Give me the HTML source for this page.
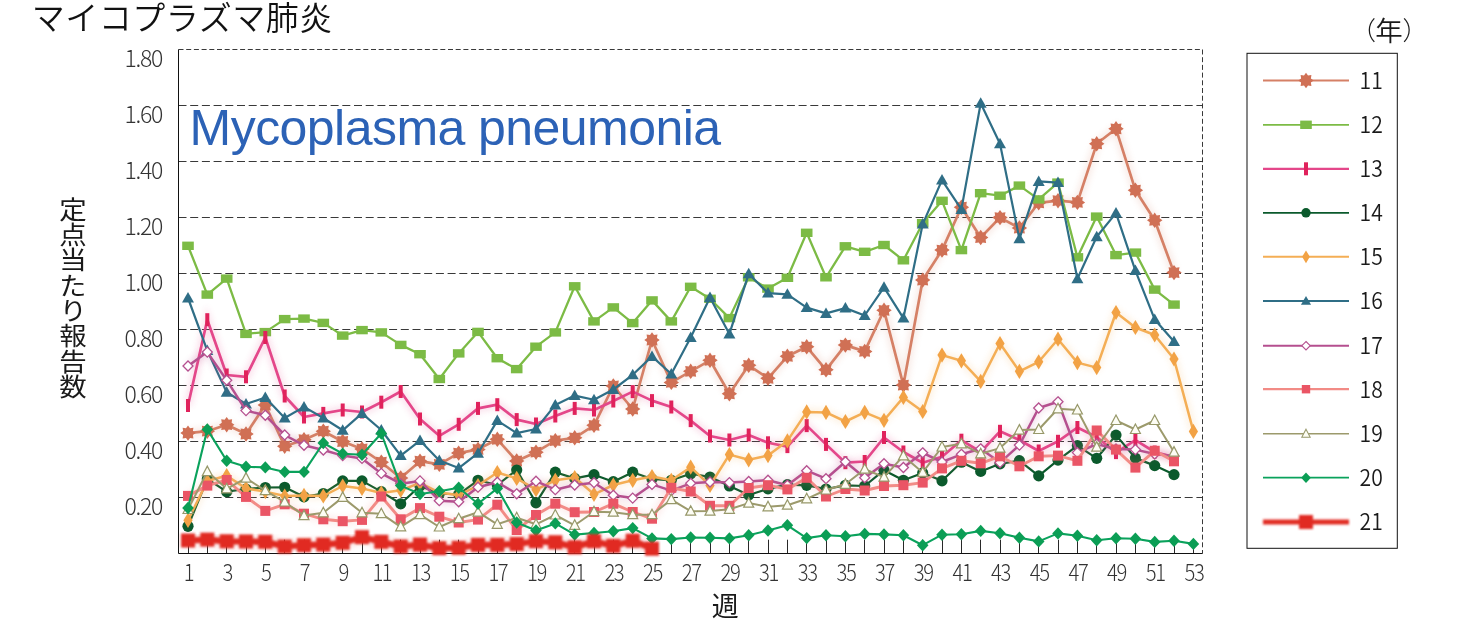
<!DOCTYPE html>
<html lang="ja"><head><meta charset="utf-8"><title>マイコプラズマ肺炎</title>
<style>
html,body{margin:0;padding:0;background:#fff;}
body{width:1462px;height:631px;overflow:hidden;}
svg{display:block;}
.jp{font-family:"Noto Sans CJK JP","IPAGothic",sans-serif;font-weight:300;}
.num{font-family:"Noto Sans CJK JP","Liberation Sans",sans-serif;font-weight:300;}
.lat{font-family:"Liberation Sans",sans-serif;}
</style></head><body>
<svg width="1462" height="631" viewBox="0 0 1462 631">
<defs>
<filter id="b35" x="-5%" y="-20%" width="110%" height="140%"><feGaussianBlur stdDeviation="0.35"/></filter>
<filter id="b40" x="-5%" y="-20%" width="110%" height="140%"><feGaussianBlur stdDeviation="0.4"/></filter>
<filter id="b45" x="-5%" y="-20%" width="110%" height="140%"><feGaussianBlur stdDeviation="0.45"/></filter>
<filter id="b50" x="-5%" y="-20%" width="110%" height="140%"><feGaussianBlur stdDeviation="0.5"/></filter>
<filter id="b60" x="-5%" y="-20%" width="110%" height="140%"><feGaussianBlur stdDeviation="0.6"/></filter>
<filter id="b70" x="-5%" y="-20%" width="110%" height="140%"><feGaussianBlur stdDeviation="0.7"/></filter>
<filter id="b90" x="-5%" y="-20%" width="110%" height="140%"><feGaussianBlur stdDeviation="0.9"/></filter>
<filter id="halo" x="-5%" y="-20%" width="110%" height="140%"><feGaussianBlur stdDeviation="3"/></filter>
</defs>
<rect width="1462" height="631" fill="#fff"/>

<text class="jp" x="31.8" y="30.4" font-size="33" letter-spacing="0.5" style="font-weight:350" fill="#111">マイコプラズマ肺炎</text>
<line x1="178.5" y1="497.5" x2="1202.5" y2="497.5" stroke="#222" stroke-width="0.9" stroke-dasharray="8 3.7"/>
<line x1="178.5" y1="441.5" x2="1202.5" y2="441.5" stroke="#222" stroke-width="0.9" stroke-dasharray="8 3.7"/>
<line x1="178.5" y1="385.5" x2="1202.5" y2="385.5" stroke="#222" stroke-width="0.9" stroke-dasharray="8 3.7"/>
<line x1="178.5" y1="329.5" x2="1202.5" y2="329.5" stroke="#222" stroke-width="0.9" stroke-dasharray="8 3.7"/>
<line x1="178.5" y1="273.5" x2="1202.5" y2="273.5" stroke="#222" stroke-width="0.9" stroke-dasharray="8 3.7"/>
<line x1="178.5" y1="217.5" x2="1202.5" y2="217.5" stroke="#222" stroke-width="0.9" stroke-dasharray="8 3.7"/>
<line x1="178.5" y1="161.5" x2="1202.5" y2="161.5" stroke="#222" stroke-width="0.9" stroke-dasharray="8 3.7"/>
<line x1="178.5" y1="105.5" x2="1202.5" y2="105.5" stroke="#222" stroke-width="0.9" stroke-dasharray="8 3.7"/>
<line x1="178.5" y1="49.5" x2="1202.5" y2="49.5" stroke="#222" stroke-width="0.9" stroke-dasharray="5 2.7"/>
<line x1="1202.5" y1="49.5" x2="1202.5" y2="553.5" stroke="#222" stroke-width="0.9" stroke-dasharray="5 2.7"/>
<line x1="178.5" y1="49.5" x2="178.5" y2="553.5" stroke="#111" stroke-width="1"/>
<line x1="178.5" y1="553.5" x2="1202.5" y2="553.5" stroke="#111" stroke-width="1"/>
<line x1="188.5" y1="539.7" x2="188.5" y2="553.5" stroke="#111" stroke-width="0.9"/>
<line x1="207.5" y1="539.7" x2="207.5" y2="553.5" stroke="#111" stroke-width="0.9"/>
<line x1="226.5" y1="539.7" x2="226.5" y2="553.5" stroke="#111" stroke-width="0.9"/>
<line x1="246.5" y1="539.7" x2="246.5" y2="553.5" stroke="#111" stroke-width="0.9"/>
<line x1="265.5" y1="539.7" x2="265.5" y2="553.5" stroke="#111" stroke-width="0.9"/>
<line x1="284.5" y1="539.7" x2="284.5" y2="553.5" stroke="#111" stroke-width="0.9"/>
<line x1="304.5" y1="539.7" x2="304.5" y2="553.5" stroke="#111" stroke-width="0.9"/>
<line x1="323.5" y1="539.7" x2="323.5" y2="553.5" stroke="#111" stroke-width="0.9"/>
<line x1="342.5" y1="539.7" x2="342.5" y2="553.5" stroke="#111" stroke-width="0.9"/>
<line x1="362.5" y1="539.7" x2="362.5" y2="553.5" stroke="#111" stroke-width="0.9"/>
<line x1="381.5" y1="539.7" x2="381.5" y2="553.5" stroke="#111" stroke-width="0.9"/>
<line x1="400.5" y1="539.7" x2="400.5" y2="553.5" stroke="#111" stroke-width="0.9"/>
<line x1="420.5" y1="539.7" x2="420.5" y2="553.5" stroke="#111" stroke-width="0.9"/>
<line x1="439.5" y1="539.7" x2="439.5" y2="553.5" stroke="#111" stroke-width="0.9"/>
<line x1="458.5" y1="539.7" x2="458.5" y2="553.5" stroke="#111" stroke-width="0.9"/>
<line x1="478.5" y1="539.7" x2="478.5" y2="553.5" stroke="#111" stroke-width="0.9"/>
<line x1="497.5" y1="539.7" x2="497.5" y2="553.5" stroke="#111" stroke-width="0.9"/>
<line x1="516.5" y1="539.7" x2="516.5" y2="553.5" stroke="#111" stroke-width="0.9"/>
<line x1="536.5" y1="539.7" x2="536.5" y2="553.5" stroke="#111" stroke-width="0.9"/>
<line x1="555.5" y1="539.7" x2="555.5" y2="553.5" stroke="#111" stroke-width="0.9"/>
<line x1="574.5" y1="539.7" x2="574.5" y2="553.5" stroke="#111" stroke-width="0.9"/>
<line x1="594.5" y1="539.7" x2="594.5" y2="553.5" stroke="#111" stroke-width="0.9"/>
<line x1="613.5" y1="539.7" x2="613.5" y2="553.5" stroke="#111" stroke-width="0.9"/>
<line x1="632.5" y1="539.7" x2="632.5" y2="553.5" stroke="#111" stroke-width="0.9"/>
<line x1="652.5" y1="539.7" x2="652.5" y2="553.5" stroke="#111" stroke-width="0.9"/>
<line x1="671.5" y1="539.7" x2="671.5" y2="553.5" stroke="#111" stroke-width="0.9"/>
<line x1="690.5" y1="539.7" x2="690.5" y2="553.5" stroke="#111" stroke-width="0.9"/>
<line x1="710.5" y1="539.7" x2="710.5" y2="553.5" stroke="#111" stroke-width="0.9"/>
<line x1="729.5" y1="539.7" x2="729.5" y2="553.5" stroke="#111" stroke-width="0.9"/>
<line x1="748.5" y1="539.7" x2="748.5" y2="553.5" stroke="#111" stroke-width="0.9"/>
<line x1="768.5" y1="539.7" x2="768.5" y2="553.5" stroke="#111" stroke-width="0.9"/>
<line x1="787.5" y1="539.7" x2="787.5" y2="553.5" stroke="#111" stroke-width="0.9"/>
<line x1="806.5" y1="539.7" x2="806.5" y2="553.5" stroke="#111" stroke-width="0.9"/>
<line x1="826.5" y1="539.7" x2="826.5" y2="553.5" stroke="#111" stroke-width="0.9"/>
<line x1="845.5" y1="539.7" x2="845.5" y2="553.5" stroke="#111" stroke-width="0.9"/>
<line x1="864.5" y1="539.7" x2="864.5" y2="553.5" stroke="#111" stroke-width="0.9"/>
<line x1="884.5" y1="539.7" x2="884.5" y2="553.5" stroke="#111" stroke-width="0.9"/>
<line x1="903.5" y1="539.7" x2="903.5" y2="553.5" stroke="#111" stroke-width="0.9"/>
<line x1="922.5" y1="539.7" x2="922.5" y2="553.5" stroke="#111" stroke-width="0.9"/>
<line x1="942.5" y1="539.7" x2="942.5" y2="553.5" stroke="#111" stroke-width="0.9"/>
<line x1="961.5" y1="539.7" x2="961.5" y2="553.5" stroke="#111" stroke-width="0.9"/>
<line x1="980.5" y1="539.7" x2="980.5" y2="553.5" stroke="#111" stroke-width="0.9"/>
<line x1="1000.5" y1="539.7" x2="1000.5" y2="553.5" stroke="#111" stroke-width="0.9"/>
<line x1="1019.5" y1="539.7" x2="1019.5" y2="553.5" stroke="#111" stroke-width="0.9"/>
<line x1="1038.5" y1="539.7" x2="1038.5" y2="553.5" stroke="#111" stroke-width="0.9"/>
<line x1="1058.5" y1="539.7" x2="1058.5" y2="553.5" stroke="#111" stroke-width="0.9"/>
<line x1="1077.5" y1="539.7" x2="1077.5" y2="553.5" stroke="#111" stroke-width="0.9"/>
<line x1="1096.5" y1="539.7" x2="1096.5" y2="553.5" stroke="#111" stroke-width="0.9"/>
<line x1="1116.5" y1="539.7" x2="1116.5" y2="553.5" stroke="#111" stroke-width="0.9"/>
<line x1="1135.5" y1="539.7" x2="1135.5" y2="553.5" stroke="#111" stroke-width="0.9"/>
<line x1="1154.5" y1="539.7" x2="1154.5" y2="553.5" stroke="#111" stroke-width="0.9"/>
<line x1="1174.5" y1="539.7" x2="1174.5" y2="553.5" stroke="#111" stroke-width="0.9"/>
<line x1="1193.5" y1="539.7" x2="1193.5" y2="553.5" stroke="#111" stroke-width="0.9"/>
<text class="num" x="161.9" y="515.3" text-anchor="end" font-size="23" letter-spacing="-1.3" fill="#333">0.20</text>
<text class="num" x="161.9" y="459.3" text-anchor="end" font-size="23" letter-spacing="-1.3" fill="#333">0.40</text>
<text class="num" x="161.9" y="403.3" text-anchor="end" font-size="23" letter-spacing="-1.3" fill="#333">0.60</text>
<text class="num" x="161.9" y="347.3" text-anchor="end" font-size="23" letter-spacing="-1.3" fill="#333">0.80</text>
<text class="num" x="161.9" y="291.3" text-anchor="end" font-size="23" letter-spacing="-1.3" fill="#333">1.00</text>
<text class="num" x="161.9" y="235.3" text-anchor="end" font-size="23" letter-spacing="-1.3" fill="#333">1.20</text>
<text class="num" x="161.9" y="179.3" text-anchor="end" font-size="23" letter-spacing="-1.3" fill="#333">1.40</text>
<text class="num" x="161.9" y="123.3" text-anchor="end" font-size="23" letter-spacing="-1.3" fill="#333">1.60</text>
<text class="num" x="161.9" y="67.3" text-anchor="end" font-size="23" letter-spacing="-1.3" fill="#333">1.80</text>
<text class="num" transform="translate(188.5,580.8) scale(0.88,1)" text-anchor="middle" font-size="23" letter-spacing="-1.6" fill="#333">1</text>
<text class="num" transform="translate(227.2,580.8) scale(0.88,1)" text-anchor="middle" font-size="23" letter-spacing="-1.6" fill="#333">3</text>
<text class="num" transform="translate(265.8,580.8) scale(0.88,1)" text-anchor="middle" font-size="23" letter-spacing="-1.6" fill="#333">5</text>
<text class="num" transform="translate(304.5,580.8) scale(0.88,1)" text-anchor="middle" font-size="23" letter-spacing="-1.6" fill="#333">7</text>
<text class="num" transform="translate(343.2,580.8) scale(0.88,1)" text-anchor="middle" font-size="23" letter-spacing="-1.6" fill="#333">9</text>
<text class="num" transform="translate(381.8,580.8) scale(0.88,1)" text-anchor="middle" font-size="23" letter-spacing="-1.6" fill="#333">11</text>
<text class="num" transform="translate(420.5,580.8) scale(0.88,1)" text-anchor="middle" font-size="23" letter-spacing="-1.6" fill="#333">13</text>
<text class="num" transform="translate(459.2,580.8) scale(0.88,1)" text-anchor="middle" font-size="23" letter-spacing="-1.6" fill="#333">15</text>
<text class="num" transform="translate(497.8,580.8) scale(0.88,1)" text-anchor="middle" font-size="23" letter-spacing="-1.6" fill="#333">17</text>
<text class="num" transform="translate(536.5,580.8) scale(0.88,1)" text-anchor="middle" font-size="23" letter-spacing="-1.6" fill="#333">19</text>
<text class="num" transform="translate(575.2,580.8) scale(0.88,1)" text-anchor="middle" font-size="23" letter-spacing="-1.6" fill="#333">21</text>
<text class="num" transform="translate(613.8,580.8) scale(0.88,1)" text-anchor="middle" font-size="23" letter-spacing="-1.6" fill="#333">23</text>
<text class="num" transform="translate(652.5,580.8) scale(0.88,1)" text-anchor="middle" font-size="23" letter-spacing="-1.6" fill="#333">25</text>
<text class="num" transform="translate(691.2,580.8) scale(0.88,1)" text-anchor="middle" font-size="23" letter-spacing="-1.6" fill="#333">27</text>
<text class="num" transform="translate(729.9,580.8) scale(0.88,1)" text-anchor="middle" font-size="23" letter-spacing="-1.6" fill="#333">29</text>
<text class="num" transform="translate(768.5,580.8) scale(0.88,1)" text-anchor="middle" font-size="23" letter-spacing="-1.6" fill="#333">31</text>
<text class="num" transform="translate(807.2,580.8) scale(0.88,1)" text-anchor="middle" font-size="23" letter-spacing="-1.6" fill="#333">33</text>
<text class="num" transform="translate(845.9,580.8) scale(0.88,1)" text-anchor="middle" font-size="23" letter-spacing="-1.6" fill="#333">35</text>
<text class="num" transform="translate(884.5,580.8) scale(0.88,1)" text-anchor="middle" font-size="23" letter-spacing="-1.6" fill="#333">37</text>
<text class="num" transform="translate(923.2,580.8) scale(0.88,1)" text-anchor="middle" font-size="23" letter-spacing="-1.6" fill="#333">39</text>
<text class="num" transform="translate(961.9,580.8) scale(0.88,1)" text-anchor="middle" font-size="23" letter-spacing="-1.6" fill="#333">41</text>
<text class="num" transform="translate(1000.5,580.8) scale(0.88,1)" text-anchor="middle" font-size="23" letter-spacing="-1.6" fill="#333">43</text>
<text class="num" transform="translate(1039.2,580.8) scale(0.88,1)" text-anchor="middle" font-size="23" letter-spacing="-1.6" fill="#333">45</text>
<text class="num" transform="translate(1077.9,580.8) scale(0.88,1)" text-anchor="middle" font-size="23" letter-spacing="-1.6" fill="#333">47</text>
<text class="num" transform="translate(1116.5,580.8) scale(0.88,1)" text-anchor="middle" font-size="23" letter-spacing="-1.6" fill="#333">49</text>
<text class="num" transform="translate(1155.2,580.8) scale(0.88,1)" text-anchor="middle" font-size="23" letter-spacing="-1.6" fill="#333">51</text>
<text class="num" transform="translate(1193.9,580.8) scale(0.88,1)" text-anchor="middle" font-size="23" letter-spacing="-1.6" fill="#333">53</text>
<text class="jp" x="725.3" y="616" text-anchor="middle" font-size="27" style="font-weight:400" fill="#1a1a1a">週</text>
<text class="jp" transform="translate(73,196.6) scale(1.1,1)" writing-mode="vertical-rl" style="font-weight:400;writing-mode:vertical-rl" font-size="25" letter-spacing="0.35" fill="#1a1a1a">定点当たり報告数</text>
<text class="lat" x="189.6" y="145.2" font-size="50" letter-spacing="-0.55" fill="#2C62B6">Mycoplasma pneumonia</text>
<g opacity="0.16" filter="url(#halo)"><polyline points="188.0,433.1 207.3,431.2 226.7,424.7 246.0,434.0 265.3,405.0 284.7,446.2 304.0,439.7 323.3,431.2 342.7,441.5 362.0,449.0 381.3,462.2 400.7,478.0 420.0,461.2 439.3,464.4 458.7,453.1 478.0,449.4 497.3,439.3 516.7,461.0 536.0,452.2 555.3,440.6 574.7,437.8 594.0,425.3 613.3,386.0 632.7,409.0 652.0,340.0 671.3,382.4 690.7,371.3 710.0,360.3 729.4,393.8 748.7,365.3 768.0,378.3 787.4,356.3 806.7,346.8 826.0,369.8 845.4,345.1 864.7,351.4 884.0,310.3 903.4,385.1 922.7,280.1 942.0,250.1 961.4,207.2 980.7,237.5 1000.0,217.6 1019.4,228.0 1038.7,202.8 1058.0,200.7 1077.4,202.4 1096.7,143.8 1116.0,128.8 1135.4,190.2 1154.7,220.3 1174.0,272.6" fill="none" stroke="#D58066" stroke-width="7.7"/></g>
<g filter="url(#b60)">
<polyline points="188.0,433.1 207.3,431.2 226.7,424.7 246.0,434.0 265.3,405.0 284.7,446.2 304.0,439.7 323.3,431.2 342.7,441.5 362.0,449.0 381.3,462.2 400.7,478.0 420.0,461.2 439.3,464.4 458.7,453.1 478.0,449.4 497.3,439.3 516.7,461.0 536.0,452.2 555.3,440.6 574.7,437.8 594.0,425.3 613.3,386.0 632.7,409.0 652.0,340.0 671.3,382.4 690.7,371.3 710.0,360.3 729.4,393.8 748.7,365.3 768.0,378.3 787.4,356.3 806.7,346.8 826.0,369.8 845.4,345.1 864.7,351.4 884.0,310.3 903.4,385.1 922.7,280.1 942.0,250.1 961.4,207.2 980.7,237.5 1000.0,217.6 1019.4,228.0 1038.7,202.8 1058.0,200.7 1077.4,202.4 1096.7,143.8 1116.0,128.8 1135.4,190.2 1154.7,220.3 1174.0,272.6" fill="none" stroke="#D58066" stroke-width="2.7" stroke-linejoin="round"/>
<polygon points="195.7,433.1 192.9,435.1 193.4,438.5 190.0,438.0 188.0,440.8 186.0,438.0 182.6,438.5 183.1,435.1 180.3,433.1 183.1,431.1 182.6,427.7 186.0,428.2 188.0,425.4 190.0,428.2 193.4,427.7 192.9,431.1" fill="#D06F54"/>
<polygon points="215.0,431.2 212.2,433.2 212.8,436.6 209.4,436.1 207.3,438.9 205.3,436.1 201.9,436.6 202.4,433.2 199.6,431.2 202.4,429.2 201.9,425.8 205.3,426.3 207.3,423.5 209.4,426.3 212.8,425.8 212.2,429.2" fill="#D06F54"/>
<polygon points="234.4,424.7 231.6,426.7 232.1,430.1 228.7,429.6 226.7,432.4 224.6,429.6 221.2,430.1 221.8,426.7 219.0,424.7 221.8,422.7 221.2,419.3 224.6,419.8 226.7,417.0 228.7,419.8 232.1,419.3 231.6,422.7" fill="#D06F54"/>
<polygon points="253.7,434.0 250.9,436.0 251.4,439.4 248.0,438.9 246.0,441.7 244.0,438.9 240.6,439.4 241.1,436.0 238.3,434.0 241.1,432.0 240.6,428.6 244.0,429.1 246.0,426.3 248.0,429.1 251.4,428.6 250.9,432.0" fill="#D06F54"/>
<polygon points="273.0,405.0 270.2,407.0 270.8,410.4 267.4,409.9 265.3,412.7 263.3,409.9 259.9,410.4 260.4,407.0 257.6,405.0 260.4,403.0 259.9,399.6 263.3,400.1 265.3,397.3 267.4,400.1 270.8,399.6 270.2,403.0" fill="#D06F54"/>
<polygon points="292.4,446.2 289.6,448.2 290.1,451.6 286.7,451.1 284.7,453.9 282.6,451.1 279.2,451.6 279.8,448.2 277.0,446.2 279.8,444.2 279.2,440.8 282.6,441.3 284.7,438.5 286.7,441.3 290.1,440.8 289.6,444.2" fill="#D06F54"/>
<polygon points="311.7,439.7 308.9,441.7 309.4,445.1 306.0,444.6 304.0,447.4 302.0,444.6 298.6,445.1 299.1,441.7 296.3,439.7 299.1,437.7 298.6,434.3 302.0,434.8 304.0,432.0 306.0,434.8 309.4,434.3 308.9,437.7" fill="#D06F54"/>
<polygon points="331.0,431.2 328.2,433.2 328.8,436.6 325.4,436.1 323.3,438.9 321.3,436.1 317.9,436.6 318.4,433.2 315.6,431.2 318.4,429.2 317.9,425.8 321.3,426.3 323.3,423.5 325.4,426.3 328.8,425.8 328.2,429.2" fill="#D06F54"/>
<polygon points="350.4,441.5 347.6,443.5 348.1,446.9 344.7,446.4 342.7,449.2 340.6,446.4 337.2,446.9 337.8,443.5 335.0,441.5 337.8,439.5 337.2,436.1 340.6,436.6 342.7,433.8 344.7,436.6 348.1,436.1 347.6,439.5" fill="#D06F54"/>
<polygon points="369.7,449.0 366.9,451.0 367.5,454.4 364.0,453.9 362.0,456.7 360.0,453.9 356.6,454.4 357.1,451.0 354.3,449.0 357.1,447.0 356.6,443.6 360.0,444.1 362.0,441.3 364.0,444.1 367.5,443.6 366.9,447.0" fill="#D06F54"/>
<polygon points="389.0,462.2 386.2,464.2 386.8,467.6 383.4,467.1 381.3,469.9 379.3,467.1 375.9,467.6 376.4,464.2 373.6,462.2 376.4,460.2 375.9,456.8 379.3,457.3 381.3,454.5 383.4,457.3 386.8,456.8 386.2,460.2" fill="#D06F54"/>
<polygon points="408.4,478.0 405.6,480.0 406.1,483.4 402.7,482.9 400.7,485.7 398.6,482.9 395.2,483.4 395.8,480.0 393.0,478.0 395.8,476.0 395.2,472.6 398.6,473.1 400.7,470.3 402.7,473.1 406.1,472.6 405.6,476.0" fill="#D06F54"/>
<polygon points="427.7,461.2 424.9,463.2 425.5,466.6 422.0,466.1 420.0,468.9 418.0,466.1 414.6,466.6 415.1,463.2 412.3,461.2 415.1,459.2 414.6,455.8 418.0,456.3 420.0,453.5 422.0,456.3 425.5,455.8 424.9,459.2" fill="#D06F54"/>
<polygon points="447.0,464.4 444.2,466.4 444.8,469.8 441.4,469.3 439.3,472.1 437.3,469.3 433.9,469.8 434.4,466.4 431.6,464.4 434.4,462.4 433.9,459.0 437.3,459.5 439.3,456.7 441.4,459.5 444.8,459.0 444.2,462.4" fill="#D06F54"/>
<polygon points="466.4,453.1 463.6,455.1 464.1,458.5 460.7,458.0 458.7,460.8 456.6,458.0 453.2,458.5 453.8,455.1 451.0,453.1 453.8,451.1 453.2,447.7 456.6,448.2 458.7,445.4 460.7,448.2 464.1,447.7 463.6,451.1" fill="#D06F54"/>
<polygon points="485.7,449.4 482.9,451.4 483.5,454.8 480.0,454.3 478.0,457.1 476.0,454.3 472.6,454.8 473.1,451.4 470.3,449.4 473.1,447.4 472.6,444.0 476.0,444.5 478.0,441.7 480.0,444.5 483.5,444.0 482.9,447.4" fill="#D06F54"/>
<polygon points="505.0,439.3 502.2,441.3 502.8,444.7 499.4,444.2 497.3,447.0 495.3,444.2 491.9,444.7 492.4,441.3 489.6,439.3 492.4,437.3 491.9,433.9 495.3,434.4 497.3,431.6 499.4,434.4 502.8,433.9 502.2,437.3" fill="#D06F54"/>
<polygon points="524.4,461.0 521.6,463.0 522.1,466.4 518.7,465.9 516.7,468.7 514.6,465.9 511.2,466.4 511.8,463.0 509.0,461.0 511.8,459.0 511.2,455.6 514.6,456.1 516.7,453.3 518.7,456.1 522.1,455.6 521.6,459.0" fill="#D06F54"/>
<polygon points="543.7,452.2 540.9,454.2 541.5,457.6 538.0,457.1 536.0,459.9 534.0,457.1 530.6,457.6 531.1,454.2 528.3,452.2 531.1,450.2 530.6,446.8 534.0,447.3 536.0,444.5 538.0,447.3 541.5,446.8 540.9,450.2" fill="#D06F54"/>
<polygon points="563.0,440.6 560.2,442.6 560.8,446.0 557.4,445.5 555.3,448.3 553.3,445.5 549.9,446.0 550.4,442.6 547.6,440.6 550.4,438.6 549.9,435.2 553.3,435.7 555.3,432.9 557.4,435.7 560.8,435.2 560.2,438.6" fill="#D06F54"/>
<polygon points="582.4,437.8 579.6,439.8 580.1,443.2 576.7,442.7 574.7,445.5 572.7,442.7 569.2,443.2 569.8,439.8 567.0,437.8 569.8,435.8 569.2,432.4 572.7,432.9 574.7,430.1 576.7,432.9 580.1,432.4 579.6,435.8" fill="#D06F54"/>
<polygon points="601.7,425.3 598.9,427.3 599.5,430.7 596.0,430.2 594.0,433.0 592.0,430.2 588.6,430.7 589.1,427.3 586.3,425.3 589.1,423.3 588.6,419.9 592.0,420.4 594.0,417.6 596.0,420.4 599.5,419.9 598.9,423.3" fill="#D06F54"/>
<polygon points="621.0,386.0 618.2,388.0 618.8,391.4 615.4,390.9 613.3,393.7 611.3,390.9 607.9,391.4 608.5,388.0 605.6,386.0 608.5,384.0 607.9,380.6 611.3,381.1 613.3,378.3 615.4,381.1 618.8,380.6 618.2,384.0" fill="#D06F54"/>
<polygon points="640.4,409.0 637.6,411.0 638.1,414.4 634.7,413.9 632.7,416.7 630.7,413.9 627.2,414.4 627.8,411.0 625.0,409.0 627.8,407.0 627.2,403.6 630.7,404.1 632.7,401.3 634.7,404.1 638.1,403.6 637.6,407.0" fill="#D06F54"/>
<polygon points="659.7,340.0 656.9,342.0 657.5,345.4 654.0,344.9 652.0,347.7 650.0,344.9 646.6,345.4 647.1,342.0 644.3,340.0 647.1,338.0 646.6,334.6 650.0,335.1 652.0,332.3 654.0,335.1 657.5,334.6 656.9,338.0" fill="#D06F54"/>
<polygon points="679.0,382.4 676.2,384.4 676.8,387.8 673.4,387.3 671.3,390.1 669.3,387.3 665.9,387.8 666.5,384.4 663.6,382.4 666.5,380.4 665.9,377.0 669.3,377.5 671.3,374.7 673.4,377.5 676.8,377.0 676.2,380.4" fill="#D06F54"/>
<polygon points="698.4,371.3 695.6,373.3 696.1,376.7 692.7,376.2 690.7,379.0 688.7,376.2 685.2,376.7 685.8,373.3 683.0,371.3 685.8,369.3 685.2,365.9 688.7,366.4 690.7,363.6 692.7,366.4 696.1,365.9 695.6,369.3" fill="#D06F54"/>
<polygon points="717.7,360.3 714.9,362.3 715.5,365.7 712.0,365.2 710.0,368.0 708.0,365.2 704.6,365.7 705.1,362.3 702.3,360.3 705.1,358.3 704.6,354.9 708.0,355.4 710.0,352.6 712.0,355.4 715.5,354.9 714.9,358.3" fill="#D06F54"/>
<polygon points="737.1,393.8 734.2,395.8 734.8,399.2 731.4,398.7 729.4,401.5 727.3,398.7 723.9,399.2 724.5,395.8 721.7,393.8 724.5,391.8 723.9,388.4 727.3,388.9 729.4,386.1 731.4,388.9 734.8,388.4 734.2,391.8" fill="#D06F54"/>
<polygon points="756.4,365.3 753.6,367.3 754.1,370.7 750.7,370.2 748.7,373.0 746.7,370.2 743.2,370.7 743.8,367.3 741.0,365.3 743.8,363.3 743.2,359.9 746.7,360.4 748.7,357.6 750.7,360.4 754.1,359.9 753.6,363.3" fill="#D06F54"/>
<polygon points="775.7,378.3 772.9,380.3 773.5,383.7 770.0,383.2 768.0,386.0 766.0,383.2 762.6,383.7 763.1,380.3 760.3,378.3 763.1,376.3 762.6,372.9 766.0,373.4 768.0,370.6 770.0,373.4 773.5,372.9 772.9,376.3" fill="#D06F54"/>
<polygon points="795.1,356.3 792.3,358.3 792.8,361.7 789.4,361.2 787.4,364.0 785.3,361.2 781.9,361.7 782.5,358.3 779.7,356.3 782.5,354.3 781.9,350.9 785.3,351.4 787.4,348.6 789.4,351.4 792.8,350.9 792.3,354.3" fill="#D06F54"/>
<polygon points="814.4,346.8 811.6,348.8 812.1,352.2 808.7,351.7 806.7,354.5 804.7,351.7 801.2,352.2 801.8,348.8 799.0,346.8 801.8,344.8 801.2,341.4 804.7,341.9 806.7,339.1 808.7,341.9 812.1,341.4 811.6,344.8" fill="#D06F54"/>
<polygon points="833.7,369.8 830.9,371.8 831.5,375.2 828.1,374.7 826.0,377.5 824.0,374.7 820.6,375.2 821.1,371.8 818.3,369.8 821.1,367.8 820.6,364.4 824.0,364.9 826.0,362.1 828.1,364.9 831.5,364.4 830.9,367.8" fill="#D06F54"/>
<polygon points="853.1,345.1 850.3,347.1 850.8,350.5 847.4,350.0 845.4,352.8 843.3,350.0 839.9,350.5 840.5,347.1 837.7,345.1 840.5,343.1 839.9,339.7 843.3,340.2 845.4,337.4 847.4,340.2 850.8,339.7 850.3,343.1" fill="#D06F54"/>
<polygon points="872.4,351.4 869.6,353.4 870.1,356.8 866.7,356.3 864.7,359.1 862.7,356.3 859.2,356.8 859.8,353.4 857.0,351.4 859.8,349.4 859.2,346.0 862.7,346.5 864.7,343.7 866.7,346.5 870.1,346.0 869.6,349.4" fill="#D06F54"/>
<polygon points="891.7,310.3 888.9,312.3 889.5,315.7 886.1,315.2 884.0,318.0 882.0,315.2 878.6,315.7 879.1,312.3 876.3,310.3 879.1,308.3 878.6,304.9 882.0,305.4 884.0,302.6 886.1,305.4 889.5,304.9 888.9,308.3" fill="#D06F54"/>
<polygon points="911.1,385.1 908.3,387.1 908.8,390.5 905.4,390.0 903.4,392.8 901.3,390.0 897.9,390.5 898.5,387.1 895.7,385.1 898.5,383.1 897.9,379.7 901.3,380.2 903.4,377.4 905.4,380.2 908.8,379.7 908.3,383.1" fill="#D06F54"/>
<polygon points="930.4,280.1 927.6,282.1 928.1,285.5 924.7,285.0 922.7,287.8 920.7,285.0 917.2,285.5 917.8,282.1 915.0,280.1 917.8,278.1 917.2,274.7 920.7,275.2 922.7,272.4 924.7,275.2 928.1,274.7 927.6,278.1" fill="#D06F54"/>
<polygon points="949.7,250.1 946.9,252.1 947.5,255.5 944.1,255.0 942.0,257.8 940.0,255.0 936.6,255.5 937.1,252.1 934.3,250.1 937.1,248.1 936.6,244.7 940.0,245.2 942.0,242.4 944.1,245.2 947.5,244.7 946.9,248.1" fill="#D06F54"/>
<polygon points="969.1,207.2 966.3,209.2 966.8,212.6 963.4,212.1 961.4,214.9 959.3,212.1 955.9,212.6 956.5,209.2 953.7,207.2 956.5,205.2 955.9,201.8 959.3,202.3 961.4,199.5 963.4,202.3 966.8,201.8 966.3,205.2" fill="#D06F54"/>
<polygon points="988.4,237.5 985.6,239.5 986.1,242.9 982.7,242.4 980.7,245.2 978.7,242.4 975.2,242.9 975.8,239.5 973.0,237.5 975.8,235.5 975.2,232.1 978.7,232.6 980.7,229.8 982.7,232.6 986.1,232.1 985.6,235.5" fill="#D06F54"/>
<polygon points="1007.7,217.6 1004.9,219.6 1005.5,223.0 1002.1,222.5 1000.0,225.3 998.0,222.5 994.6,223.0 995.1,219.6 992.3,217.6 995.1,215.6 994.6,212.2 998.0,212.7 1000.0,209.9 1002.1,212.7 1005.5,212.2 1004.9,215.6" fill="#D06F54"/>
<polygon points="1027.1,228.0 1024.3,230.0 1024.8,233.4 1021.4,232.9 1019.4,235.7 1017.3,232.9 1013.9,233.4 1014.5,230.0 1011.7,228.0 1014.5,226.0 1013.9,222.6 1017.3,223.1 1019.4,220.3 1021.4,223.1 1024.8,222.6 1024.3,226.0" fill="#D06F54"/>
<polygon points="1046.4,202.8 1043.6,204.8 1044.1,208.2 1040.7,207.7 1038.7,210.5 1036.7,207.7 1033.3,208.2 1033.8,204.8 1031.0,202.8 1033.8,200.8 1033.3,197.4 1036.7,197.9 1038.7,195.1 1040.7,197.9 1044.1,197.4 1043.6,200.8" fill="#D06F54"/>
<polygon points="1065.7,200.7 1062.9,202.7 1063.5,206.1 1060.1,205.6 1058.0,208.4 1056.0,205.6 1052.6,206.1 1053.1,202.7 1050.3,200.7 1053.1,198.7 1052.6,195.3 1056.0,195.8 1058.0,193.0 1060.1,195.8 1063.5,195.3 1062.9,198.7" fill="#D06F54"/>
<polygon points="1085.1,202.4 1082.3,204.4 1082.8,207.8 1079.4,207.3 1077.4,210.1 1075.3,207.3 1071.9,207.8 1072.5,204.4 1069.7,202.4 1072.5,200.4 1071.9,197.0 1075.3,197.5 1077.4,194.7 1079.4,197.5 1082.8,197.0 1082.3,200.4" fill="#D06F54"/>
<polygon points="1104.4,143.8 1101.6,145.8 1102.1,149.2 1098.7,148.7 1096.7,151.5 1094.7,148.7 1091.3,149.2 1091.8,145.8 1089.0,143.8 1091.8,141.8 1091.3,138.4 1094.7,138.9 1096.7,136.1 1098.7,138.9 1102.1,138.4 1101.6,141.8" fill="#D06F54"/>
<polygon points="1123.7,128.8 1120.9,130.8 1121.5,134.2 1118.1,133.7 1116.0,136.5 1114.0,133.7 1110.6,134.2 1111.1,130.8 1108.3,128.8 1111.1,126.8 1110.6,123.4 1114.0,123.9 1116.0,121.1 1118.1,123.9 1121.5,123.4 1120.9,126.8" fill="#D06F54"/>
<polygon points="1143.1,190.2 1140.3,192.2 1140.8,195.6 1137.4,195.1 1135.4,197.9 1133.3,195.1 1129.9,195.6 1130.5,192.2 1127.7,190.2 1130.5,188.2 1129.9,184.8 1133.3,185.3 1135.4,182.5 1137.4,185.3 1140.8,184.8 1140.3,188.2" fill="#D06F54"/>
<polygon points="1162.4,220.3 1159.6,222.3 1160.1,225.7 1156.7,225.2 1154.7,228.0 1152.7,225.2 1149.3,225.7 1149.8,222.3 1147.0,220.3 1149.8,218.3 1149.3,214.9 1152.7,215.4 1154.7,212.6 1156.7,215.4 1160.1,214.9 1159.6,218.3" fill="#D06F54"/>
<polygon points="1181.7,272.6 1178.9,274.6 1179.5,278.0 1176.1,277.5 1174.0,280.3 1172.0,277.5 1168.6,278.0 1169.1,274.6 1166.3,272.6 1169.1,270.6 1168.6,267.2 1172.0,267.7 1174.0,264.9 1176.1,267.7 1179.5,267.2 1178.9,270.6" fill="#D06F54"/>
</g>
<g>
<polyline points="188.0,245.8 207.3,294.6 226.7,278.6 246.0,333.9 265.3,332.1 284.7,319.1 304.0,318.6 323.3,322.9 342.7,335.6 362.0,330.1 381.3,332.4 400.7,344.9 420.0,354.2 439.3,379.0 458.7,353.4 478.0,331.9 497.3,358.2 516.7,369.1 536.0,346.7 555.3,332.4 574.7,286.3 594.0,321.4 613.3,307.4 632.7,323.1 652.0,300.4 671.3,321.4 690.7,286.8 710.0,298.8 729.4,318.1 748.7,277.3 768.0,288.6 787.4,277.8 806.7,232.8 826.0,277.3 845.4,246.3 864.7,251.8 884.0,245.0 903.4,260.3 922.7,223.2 942.0,200.8 961.4,250.1 980.7,193.2 1000.0,195.7 1019.4,185.6 1038.7,199.4 1058.0,182.6 1077.4,257.3 1096.7,216.6 1116.0,255.1 1135.4,252.6 1154.7,289.6 1174.0,304.6" fill="none" stroke="#7CBB45" stroke-width="2.3" stroke-linejoin="round"/>
<rect x="182.2" y="241.6" width="11.6" height="8.4" fill="#7CBB45"/>
<rect x="201.5" y="290.4" width="11.6" height="8.4" fill="#7CBB45"/>
<rect x="220.9" y="274.4" width="11.6" height="8.4" fill="#7CBB45"/>
<rect x="240.2" y="329.7" width="11.6" height="8.4" fill="#7CBB45"/>
<rect x="259.5" y="327.9" width="11.6" height="8.4" fill="#7CBB45"/>
<rect x="278.9" y="314.9" width="11.6" height="8.4" fill="#7CBB45"/>
<rect x="298.2" y="314.4" width="11.6" height="8.4" fill="#7CBB45"/>
<rect x="317.5" y="318.7" width="11.6" height="8.4" fill="#7CBB45"/>
<rect x="336.9" y="331.4" width="11.6" height="8.4" fill="#7CBB45"/>
<rect x="356.2" y="325.9" width="11.6" height="8.4" fill="#7CBB45"/>
<rect x="375.5" y="328.2" width="11.6" height="8.4" fill="#7CBB45"/>
<rect x="394.9" y="340.7" width="11.6" height="8.4" fill="#7CBB45"/>
<rect x="414.2" y="350.0" width="11.6" height="8.4" fill="#7CBB45"/>
<rect x="433.5" y="374.8" width="11.6" height="8.4" fill="#7CBB45"/>
<rect x="452.9" y="349.2" width="11.6" height="8.4" fill="#7CBB45"/>
<rect x="472.2" y="327.7" width="11.6" height="8.4" fill="#7CBB45"/>
<rect x="491.5" y="354.0" width="11.6" height="8.4" fill="#7CBB45"/>
<rect x="510.9" y="364.9" width="11.6" height="8.4" fill="#7CBB45"/>
<rect x="530.2" y="342.5" width="11.6" height="8.4" fill="#7CBB45"/>
<rect x="549.5" y="328.2" width="11.6" height="8.4" fill="#7CBB45"/>
<rect x="568.9" y="282.1" width="11.6" height="8.4" fill="#7CBB45"/>
<rect x="588.2" y="317.2" width="11.6" height="8.4" fill="#7CBB45"/>
<rect x="607.5" y="303.2" width="11.6" height="8.4" fill="#7CBB45"/>
<rect x="626.9" y="318.9" width="11.6" height="8.4" fill="#7CBB45"/>
<rect x="646.2" y="296.2" width="11.6" height="8.4" fill="#7CBB45"/>
<rect x="665.5" y="317.2" width="11.6" height="8.4" fill="#7CBB45"/>
<rect x="684.9" y="282.6" width="11.6" height="8.4" fill="#7CBB45"/>
<rect x="704.2" y="294.6" width="11.6" height="8.4" fill="#7CBB45"/>
<rect x="723.6" y="313.9" width="11.6" height="8.4" fill="#7CBB45"/>
<rect x="742.9" y="273.1" width="11.6" height="8.4" fill="#7CBB45"/>
<rect x="762.2" y="284.4" width="11.6" height="8.4" fill="#7CBB45"/>
<rect x="781.6" y="273.6" width="11.6" height="8.4" fill="#7CBB45"/>
<rect x="800.9" y="228.6" width="11.6" height="8.4" fill="#7CBB45"/>
<rect x="820.2" y="273.1" width="11.6" height="8.4" fill="#7CBB45"/>
<rect x="839.6" y="242.1" width="11.6" height="8.4" fill="#7CBB45"/>
<rect x="858.9" y="247.6" width="11.6" height="8.4" fill="#7CBB45"/>
<rect x="878.2" y="240.8" width="11.6" height="8.4" fill="#7CBB45"/>
<rect x="897.6" y="256.1" width="11.6" height="8.4" fill="#7CBB45"/>
<rect x="916.9" y="219.0" width="11.6" height="8.4" fill="#7CBB45"/>
<rect x="936.2" y="196.6" width="11.6" height="8.4" fill="#7CBB45"/>
<rect x="955.6" y="245.9" width="11.6" height="8.4" fill="#7CBB45"/>
<rect x="974.9" y="189.0" width="11.6" height="8.4" fill="#7CBB45"/>
<rect x="994.2" y="191.5" width="11.6" height="8.4" fill="#7CBB45"/>
<rect x="1013.6" y="181.4" width="11.6" height="8.4" fill="#7CBB45"/>
<rect x="1032.9" y="195.2" width="11.6" height="8.4" fill="#7CBB45"/>
<rect x="1052.2" y="178.4" width="11.6" height="8.4" fill="#7CBB45"/>
<rect x="1071.6" y="253.1" width="11.6" height="8.4" fill="#7CBB45"/>
<rect x="1090.9" y="212.4" width="11.6" height="8.4" fill="#7CBB45"/>
<rect x="1110.2" y="250.9" width="11.6" height="8.4" fill="#7CBB45"/>
<rect x="1129.6" y="248.4" width="11.6" height="8.4" fill="#7CBB45"/>
<rect x="1148.9" y="285.4" width="11.6" height="8.4" fill="#7CBB45"/>
<rect x="1168.2" y="300.4" width="11.6" height="8.4" fill="#7CBB45"/>
</g>
<g opacity="0.16" filter="url(#halo)"><polyline points="188.0,405.5 207.3,319.7 226.7,375.0 246.0,376.8 265.3,337.5 284.7,396.0 304.0,417.0 323.3,413.4 342.7,410.0 362.0,412.0 381.3,402.2 400.7,391.5 420.0,419.0 439.3,435.8 458.7,424.3 478.0,408.4 497.3,404.7 516.7,419.6 536.0,424.0 555.3,416.0 574.7,408.4 594.0,410.0 613.3,401.0 632.7,391.6 652.0,400.6 671.3,407.0 690.7,420.6 710.0,436.0 729.4,440.0 748.7,435.0 768.0,442.8 787.4,446.6 806.7,425.6 826.0,444.4 845.4,462.7 864.7,461.5 884.0,437.5 903.4,452.0 922.7,462.7 942.0,456.7 961.4,440.2 980.7,452.0 1000.0,431.3 1019.4,440.0 1038.7,451.0 1058.0,441.3 1077.4,427.5 1096.7,437.0 1116.0,452.6 1135.4,440.1 1154.7,452.0 1174.0,457.0" fill="none" stroke="#E4478A" stroke-width="7.7"/></g>
<g filter="url(#b40)">
<polyline points="188.0,405.5 207.3,319.7 226.7,375.0 246.0,376.8 265.3,337.5 284.7,396.0 304.0,417.0 323.3,413.4 342.7,410.0 362.0,412.0 381.3,402.2 400.7,391.5 420.0,419.0 439.3,435.8 458.7,424.3 478.0,408.4 497.3,404.7 516.7,419.6 536.0,424.0 555.3,416.0 574.7,408.4 594.0,410.0 613.3,401.0 632.7,391.6 652.0,400.6 671.3,407.0 690.7,420.6 710.0,436.0 729.4,440.0 748.7,435.0 768.0,442.8 787.4,446.6 806.7,425.6 826.0,444.4 845.4,462.7 864.7,461.5 884.0,437.5 903.4,452.0 922.7,462.7 942.0,456.7 961.4,440.2 980.7,452.0 1000.0,431.3 1019.4,440.0 1038.7,451.0 1058.0,441.3 1077.4,427.5 1096.7,437.0 1116.0,452.6 1135.4,440.1 1154.7,452.0 1174.0,457.0" fill="none" stroke="#E4478A" stroke-width="2.7" stroke-linejoin="round"/>
<rect x="186.0" y="399.0" width="4" height="13" fill="#E0235B"/>
<rect x="205.3" y="313.2" width="4" height="13" fill="#E0235B"/>
<rect x="224.7" y="368.5" width="4" height="13" fill="#E0235B"/>
<rect x="244.0" y="370.3" width="4" height="13" fill="#E0235B"/>
<rect x="263.3" y="331.0" width="4" height="13" fill="#E0235B"/>
<rect x="282.7" y="389.5" width="4" height="13" fill="#E0235B"/>
<rect x="302.0" y="410.5" width="4" height="13" fill="#E0235B"/>
<rect x="321.3" y="406.9" width="4" height="13" fill="#E0235B"/>
<rect x="340.7" y="403.5" width="4" height="13" fill="#E0235B"/>
<rect x="360.0" y="405.5" width="4" height="13" fill="#E0235B"/>
<rect x="379.3" y="395.7" width="4" height="13" fill="#E0235B"/>
<rect x="398.7" y="385.0" width="4" height="13" fill="#E0235B"/>
<rect x="418.0" y="412.5" width="4" height="13" fill="#E0235B"/>
<rect x="437.3" y="429.3" width="4" height="13" fill="#E0235B"/>
<rect x="456.7" y="417.8" width="4" height="13" fill="#E0235B"/>
<rect x="476.0" y="401.9" width="4" height="13" fill="#E0235B"/>
<rect x="495.3" y="398.2" width="4" height="13" fill="#E0235B"/>
<rect x="514.7" y="413.1" width="4" height="13" fill="#E0235B"/>
<rect x="534.0" y="417.5" width="4" height="13" fill="#E0235B"/>
<rect x="553.3" y="409.5" width="4" height="13" fill="#E0235B"/>
<rect x="572.7" y="401.9" width="4" height="13" fill="#E0235B"/>
<rect x="592.0" y="403.5" width="4" height="13" fill="#E0235B"/>
<rect x="611.3" y="394.5" width="4" height="13" fill="#E0235B"/>
<rect x="630.7" y="385.1" width="4" height="13" fill="#E0235B"/>
<rect x="650.0" y="394.1" width="4" height="13" fill="#E0235B"/>
<rect x="669.3" y="400.5" width="4" height="13" fill="#E0235B"/>
<rect x="688.7" y="414.1" width="4" height="13" fill="#E0235B"/>
<rect x="708.0" y="429.5" width="4" height="13" fill="#E0235B"/>
<rect x="727.4" y="433.5" width="4" height="13" fill="#E0235B"/>
<rect x="746.7" y="428.5" width="4" height="13" fill="#E0235B"/>
<rect x="766.0" y="436.3" width="4" height="13" fill="#E0235B"/>
<rect x="785.4" y="440.1" width="4" height="13" fill="#E0235B"/>
<rect x="804.7" y="419.1" width="4" height="13" fill="#E0235B"/>
<rect x="824.0" y="437.9" width="4" height="13" fill="#E0235B"/>
<rect x="843.4" y="456.2" width="4" height="13" fill="#E0235B"/>
<rect x="862.7" y="455.0" width="4" height="13" fill="#E0235B"/>
<rect x="882.0" y="431.0" width="4" height="13" fill="#E0235B"/>
<rect x="901.4" y="445.5" width="4" height="13" fill="#E0235B"/>
<rect x="920.7" y="456.2" width="4" height="13" fill="#E0235B"/>
<rect x="940.0" y="450.2" width="4" height="13" fill="#E0235B"/>
<rect x="959.4" y="433.7" width="4" height="13" fill="#E0235B"/>
<rect x="978.7" y="445.5" width="4" height="13" fill="#E0235B"/>
<rect x="998.0" y="424.8" width="4" height="13" fill="#E0235B"/>
<rect x="1017.4" y="433.5" width="4" height="13" fill="#E0235B"/>
<rect x="1036.7" y="444.5" width="4" height="13" fill="#E0235B"/>
<rect x="1056.0" y="434.8" width="4" height="13" fill="#E0235B"/>
<rect x="1075.4" y="421.0" width="4" height="13" fill="#E0235B"/>
<rect x="1094.7" y="430.5" width="4" height="13" fill="#E0235B"/>
<rect x="1114.0" y="446.1" width="4" height="13" fill="#E0235B"/>
<rect x="1133.4" y="433.6" width="4" height="13" fill="#E0235B"/>
<rect x="1152.7" y="445.5" width="4" height="13" fill="#E0235B"/>
<rect x="1172.0" y="450.5" width="4" height="13" fill="#E0235B"/>
</g>
<g>
<polyline points="188.0,526.3 207.3,479.0 226.7,491.7 246.0,489.0 265.3,487.5 284.7,487.3 304.0,496.8 323.3,493.5 342.7,480.9 362.0,480.9 381.3,491.6 400.7,503.8 420.0,486.0 439.3,493.5 458.7,494.3 478.0,480.3 497.3,485.0 516.7,470.0 536.0,502.8 555.3,472.2 574.7,478.4 594.0,474.7 613.3,481.7 632.7,472.2 652.0,479.0 671.3,480.3 690.7,473.7 710.0,477.0 729.4,486.0 748.7,495.0 768.0,488.8 787.4,484.6 806.7,485.3 826.0,489.0 845.4,485.3 864.7,486.0 884.0,470.2 903.4,480.3 922.7,473.0 942.0,480.8 961.4,462.2 980.7,471.4 1000.0,463.8 1019.4,460.6 1038.7,475.9 1058.0,460.1 1077.4,445.6 1096.7,458.3 1116.0,435.1 1135.4,458.1 1154.7,465.6 1174.0,474.6" fill="none" stroke="#0B5A2C" stroke-width="2.2" stroke-linejoin="round"/>
<circle cx="188.0" cy="526.3" r="5.6" fill="#0B5A2C"/>
<circle cx="207.3" cy="479.0" r="5.6" fill="#0B5A2C"/>
<circle cx="226.7" cy="491.7" r="5.6" fill="#0B5A2C"/>
<circle cx="246.0" cy="489.0" r="5.6" fill="#0B5A2C"/>
<circle cx="265.3" cy="487.5" r="5.6" fill="#0B5A2C"/>
<circle cx="284.7" cy="487.3" r="5.6" fill="#0B5A2C"/>
<circle cx="304.0" cy="496.8" r="5.6" fill="#0B5A2C"/>
<circle cx="323.3" cy="493.5" r="5.6" fill="#0B5A2C"/>
<circle cx="342.7" cy="480.9" r="5.6" fill="#0B5A2C"/>
<circle cx="362.0" cy="480.9" r="5.6" fill="#0B5A2C"/>
<circle cx="381.3" cy="491.6" r="5.6" fill="#0B5A2C"/>
<circle cx="400.7" cy="503.8" r="5.6" fill="#0B5A2C"/>
<circle cx="420.0" cy="486.0" r="5.6" fill="#0B5A2C"/>
<circle cx="439.3" cy="493.5" r="5.6" fill="#0B5A2C"/>
<circle cx="458.7" cy="494.3" r="5.6" fill="#0B5A2C"/>
<circle cx="478.0" cy="480.3" r="5.6" fill="#0B5A2C"/>
<circle cx="497.3" cy="485.0" r="5.6" fill="#0B5A2C"/>
<circle cx="516.7" cy="470.0" r="5.6" fill="#0B5A2C"/>
<circle cx="536.0" cy="502.8" r="5.6" fill="#0B5A2C"/>
<circle cx="555.3" cy="472.2" r="5.6" fill="#0B5A2C"/>
<circle cx="574.7" cy="478.4" r="5.6" fill="#0B5A2C"/>
<circle cx="594.0" cy="474.7" r="5.6" fill="#0B5A2C"/>
<circle cx="613.3" cy="481.7" r="5.6" fill="#0B5A2C"/>
<circle cx="632.7" cy="472.2" r="5.6" fill="#0B5A2C"/>
<circle cx="652.0" cy="479.0" r="5.6" fill="#0B5A2C"/>
<circle cx="671.3" cy="480.3" r="5.6" fill="#0B5A2C"/>
<circle cx="690.7" cy="473.7" r="5.6" fill="#0B5A2C"/>
<circle cx="710.0" cy="477.0" r="5.6" fill="#0B5A2C"/>
<circle cx="729.4" cy="486.0" r="5.6" fill="#0B5A2C"/>
<circle cx="748.7" cy="495.0" r="5.6" fill="#0B5A2C"/>
<circle cx="768.0" cy="488.8" r="5.6" fill="#0B5A2C"/>
<circle cx="787.4" cy="484.6" r="5.6" fill="#0B5A2C"/>
<circle cx="806.7" cy="485.3" r="5.6" fill="#0B5A2C"/>
<circle cx="826.0" cy="489.0" r="5.6" fill="#0B5A2C"/>
<circle cx="845.4" cy="485.3" r="5.6" fill="#0B5A2C"/>
<circle cx="864.7" cy="486.0" r="5.6" fill="#0B5A2C"/>
<circle cx="884.0" cy="470.2" r="5.6" fill="#0B5A2C"/>
<circle cx="903.4" cy="480.3" r="5.6" fill="#0B5A2C"/>
<circle cx="922.7" cy="473.0" r="5.6" fill="#0B5A2C"/>
<circle cx="942.0" cy="480.8" r="5.6" fill="#0B5A2C"/>
<circle cx="961.4" cy="462.2" r="5.6" fill="#0B5A2C"/>
<circle cx="980.7" cy="471.4" r="5.6" fill="#0B5A2C"/>
<circle cx="1000.0" cy="463.8" r="5.6" fill="#0B5A2C"/>
<circle cx="1019.4" cy="460.6" r="5.6" fill="#0B5A2C"/>
<circle cx="1038.7" cy="475.9" r="5.6" fill="#0B5A2C"/>
<circle cx="1058.0" cy="460.1" r="5.6" fill="#0B5A2C"/>
<circle cx="1077.4" cy="445.6" r="5.6" fill="#0B5A2C"/>
<circle cx="1096.7" cy="458.3" r="5.6" fill="#0B5A2C"/>
<circle cx="1116.0" cy="435.1" r="5.6" fill="#0B5A2C"/>
<circle cx="1135.4" cy="458.1" r="5.6" fill="#0B5A2C"/>
<circle cx="1154.7" cy="465.6" r="5.6" fill="#0B5A2C"/>
<circle cx="1174.0" cy="474.6" r="5.6" fill="#0B5A2C"/>
</g>
<g opacity="0.16" filter="url(#halo)"><polyline points="188.0,520.3 207.3,481.0 226.7,475.7 246.0,488.4 265.3,491.6 284.7,496.0 304.0,495.4 323.3,496.0 342.7,486.0 362.0,488.4 381.3,493.0 400.7,490.3 420.0,482.8 439.3,492.5 458.7,495.3 478.0,485.5 497.3,472.5 516.7,478.4 536.0,489.7 555.3,480.3 574.7,477.5 594.0,494.3 613.3,485.0 632.7,480.3 652.0,476.5 671.3,480.3 690.7,467.2 710.0,485.5 729.4,454.6 748.7,459.8 768.0,455.6 787.4,440.9 806.7,411.9 826.0,412.4 845.4,421.5 864.7,412.4 884.0,420.3 903.4,397.4 922.7,411.5 942.0,355.1 961.4,360.8 980.7,381.4 1000.0,343.5 1019.4,371.3 1038.7,361.8 1058.0,339.2 1077.4,362.6 1096.7,367.6 1116.0,312.5 1135.4,327.5 1154.7,335.0 1174.0,359.0 1193.4,431.4" fill="none" stroke="#F4AE55" stroke-width="7.5"/></g>
<g filter="url(#b50)">
<polyline points="188.0,520.3 207.3,481.0 226.7,475.7 246.0,488.4 265.3,491.6 284.7,496.0 304.0,495.4 323.3,496.0 342.7,486.0 362.0,488.4 381.3,493.0 400.7,490.3 420.0,482.8 439.3,492.5 458.7,495.3 478.0,485.5 497.3,472.5 516.7,478.4 536.0,489.7 555.3,480.3 574.7,477.5 594.0,494.3 613.3,485.0 632.7,480.3 652.0,476.5 671.3,480.3 690.7,467.2 710.0,485.5 729.4,454.6 748.7,459.8 768.0,455.6 787.4,440.9 806.7,411.9 826.0,412.4 845.4,421.5 864.7,412.4 884.0,420.3 903.4,397.4 922.7,411.5 942.0,355.1 961.4,360.8 980.7,381.4 1000.0,343.5 1019.4,371.3 1038.7,361.8 1058.0,339.2 1077.4,362.6 1096.7,367.6 1116.0,312.5 1135.4,327.5 1154.7,335.0 1174.0,359.0 1193.4,431.4" fill="none" stroke="#F4AE55" stroke-width="2.5" stroke-linejoin="round"/>
<polygon points="188.0,512.7 192.6,520.3 188.0,527.9 183.4,520.3" fill="#F2A244"/>
<polygon points="207.3,473.4 211.9,481.0 207.3,488.6 202.7,481.0" fill="#F2A244"/>
<polygon points="226.7,468.1 231.3,475.7 226.7,483.3 222.1,475.7" fill="#F2A244"/>
<polygon points="246.0,480.8 250.6,488.4 246.0,496.0 241.4,488.4" fill="#F2A244"/>
<polygon points="265.3,484.0 269.9,491.6 265.3,499.2 260.7,491.6" fill="#F2A244"/>
<polygon points="284.7,488.4 289.3,496.0 284.7,503.6 280.1,496.0" fill="#F2A244"/>
<polygon points="304.0,487.8 308.6,495.4 304.0,503.0 299.4,495.4" fill="#F2A244"/>
<polygon points="323.3,488.4 327.9,496.0 323.3,503.6 318.7,496.0" fill="#F2A244"/>
<polygon points="342.7,478.4 347.3,486.0 342.7,493.6 338.1,486.0" fill="#F2A244"/>
<polygon points="362.0,480.8 366.6,488.4 362.0,496.0 357.4,488.4" fill="#F2A244"/>
<polygon points="381.3,485.4 385.9,493.0 381.3,500.6 376.7,493.0" fill="#F2A244"/>
<polygon points="400.7,482.7 405.3,490.3 400.7,497.9 396.1,490.3" fill="#F2A244"/>
<polygon points="420.0,475.2 424.6,482.8 420.0,490.4 415.4,482.8" fill="#F2A244"/>
<polygon points="439.3,484.9 443.9,492.5 439.3,500.1 434.7,492.5" fill="#F2A244"/>
<polygon points="458.7,487.7 463.3,495.3 458.7,502.9 454.1,495.3" fill="#F2A244"/>
<polygon points="478.0,477.9 482.6,485.5 478.0,493.1 473.4,485.5" fill="#F2A244"/>
<polygon points="497.3,464.9 501.9,472.5 497.3,480.1 492.7,472.5" fill="#F2A244"/>
<polygon points="516.7,470.8 521.3,478.4 516.7,486.0 512.1,478.4" fill="#F2A244"/>
<polygon points="536.0,482.1 540.6,489.7 536.0,497.3 531.4,489.7" fill="#F2A244"/>
<polygon points="555.3,472.7 559.9,480.3 555.3,487.9 550.7,480.3" fill="#F2A244"/>
<polygon points="574.7,469.9 579.3,477.5 574.7,485.1 570.1,477.5" fill="#F2A244"/>
<polygon points="594.0,486.7 598.6,494.3 594.0,501.9 589.4,494.3" fill="#F2A244"/>
<polygon points="613.3,477.4 617.9,485.0 613.3,492.6 608.7,485.0" fill="#F2A244"/>
<polygon points="632.7,472.7 637.3,480.3 632.7,487.9 628.1,480.3" fill="#F2A244"/>
<polygon points="652.0,468.9 656.6,476.5 652.0,484.1 647.4,476.5" fill="#F2A244"/>
<polygon points="671.3,472.7 675.9,480.3 671.3,487.9 666.7,480.3" fill="#F2A244"/>
<polygon points="690.7,459.6 695.3,467.2 690.7,474.8 686.1,467.2" fill="#F2A244"/>
<polygon points="710.0,477.9 714.6,485.5 710.0,493.1 705.4,485.5" fill="#F2A244"/>
<polygon points="729.4,447.0 734.0,454.6 729.4,462.2 724.8,454.6" fill="#F2A244"/>
<polygon points="748.7,452.2 753.3,459.8 748.7,467.4 744.1,459.8" fill="#F2A244"/>
<polygon points="768.0,448.0 772.6,455.6 768.0,463.2 763.4,455.6" fill="#F2A244"/>
<polygon points="787.4,433.3 792.0,440.9 787.4,448.5 782.8,440.9" fill="#F2A244"/>
<polygon points="806.7,404.3 811.3,411.9 806.7,419.5 802.1,411.9" fill="#F2A244"/>
<polygon points="826.0,404.8 830.6,412.4 826.0,420.0 821.4,412.4" fill="#F2A244"/>
<polygon points="845.4,413.9 850.0,421.5 845.4,429.1 840.8,421.5" fill="#F2A244"/>
<polygon points="864.7,404.8 869.3,412.4 864.7,420.0 860.1,412.4" fill="#F2A244"/>
<polygon points="884.0,412.7 888.6,420.3 884.0,427.9 879.4,420.3" fill="#F2A244"/>
<polygon points="903.4,389.8 908.0,397.4 903.4,405.0 898.8,397.4" fill="#F2A244"/>
<polygon points="922.7,403.9 927.3,411.5 922.7,419.1 918.1,411.5" fill="#F2A244"/>
<polygon points="942.0,347.5 946.6,355.1 942.0,362.7 937.4,355.1" fill="#F2A244"/>
<polygon points="961.4,353.2 966.0,360.8 961.4,368.4 956.8,360.8" fill="#F2A244"/>
<polygon points="980.7,373.8 985.3,381.4 980.7,389.0 976.1,381.4" fill="#F2A244"/>
<polygon points="1000.0,335.9 1004.6,343.5 1000.0,351.1 995.4,343.5" fill="#F2A244"/>
<polygon points="1019.4,363.7 1024.0,371.3 1019.4,378.9 1014.8,371.3" fill="#F2A244"/>
<polygon points="1038.7,354.2 1043.3,361.8 1038.7,369.4 1034.1,361.8" fill="#F2A244"/>
<polygon points="1058.0,331.6 1062.6,339.2 1058.0,346.8 1053.4,339.2" fill="#F2A244"/>
<polygon points="1077.4,355.0 1082.0,362.6 1077.4,370.2 1072.8,362.6" fill="#F2A244"/>
<polygon points="1096.7,360.0 1101.3,367.6 1096.7,375.2 1092.1,367.6" fill="#F2A244"/>
<polygon points="1116.0,304.9 1120.6,312.5 1116.0,320.1 1111.4,312.5" fill="#F2A244"/>
<polygon points="1135.4,319.9 1140.0,327.5 1135.4,335.1 1130.8,327.5" fill="#F2A244"/>
<polygon points="1154.7,327.4 1159.3,335.0 1154.7,342.6 1150.1,335.0" fill="#F2A244"/>
<polygon points="1174.0,351.4 1178.6,359.0 1174.0,366.6 1169.4,359.0" fill="#F2A244"/>
<polygon points="1193.4,423.8 1198.0,431.4 1193.4,439.0 1188.8,431.4" fill="#F2A244"/>
</g>
<g>
<polyline points="188.0,298.0 207.3,350.6 226.7,392.3 246.0,404.0 265.3,397.5 284.7,418.0 304.0,406.9 323.3,418.0 342.7,430.3 362.0,413.4 381.3,430.0 400.7,455.6 420.0,440.6 439.3,460.4 458.7,468.1 478.0,453.2 497.3,420.6 516.7,433.1 536.0,429.0 555.3,404.9 574.7,395.6 594.0,399.8 613.3,389.5 632.7,374.8 652.0,356.4 671.3,374.0 690.7,337.5 710.0,297.6 729.4,333.9 748.7,273.8 768.0,293.1 787.4,294.3 806.7,307.6 826.0,313.4 845.4,308.1 864.7,315.5 884.0,287.3 903.4,318.1 922.7,224.1 942.0,180.1 961.4,209.4 980.7,103.3 1000.0,143.8 1019.4,238.8 1038.7,181.4 1058.0,182.6 1077.4,278.8 1096.7,236.8 1116.0,213.1 1135.4,270.6 1154.7,319.4 1174.0,341.4" fill="none" stroke="#2F6E86" stroke-width="2.2" stroke-linejoin="round"/>
<polygon points="188.0,292.0 194.0,302.5 182.0,302.5" fill="#2F6E86"/>
<polygon points="207.3,344.6 213.3,355.1 201.3,355.1" fill="#2F6E86"/>
<polygon points="226.7,386.3 232.7,396.8 220.7,396.8" fill="#2F6E86"/>
<polygon points="246.0,398.0 252.0,408.5 240.0,408.5" fill="#2F6E86"/>
<polygon points="265.3,391.5 271.3,402.0 259.3,402.0" fill="#2F6E86"/>
<polygon points="284.7,412.0 290.7,422.5 278.7,422.5" fill="#2F6E86"/>
<polygon points="304.0,400.9 310.0,411.4 298.0,411.4" fill="#2F6E86"/>
<polygon points="323.3,412.0 329.3,422.5 317.3,422.5" fill="#2F6E86"/>
<polygon points="342.7,424.3 348.7,434.8 336.7,434.8" fill="#2F6E86"/>
<polygon points="362.0,407.4 368.0,417.9 356.0,417.9" fill="#2F6E86"/>
<polygon points="381.3,424.0 387.3,434.5 375.3,434.5" fill="#2F6E86"/>
<polygon points="400.7,449.6 406.7,460.1 394.7,460.1" fill="#2F6E86"/>
<polygon points="420.0,434.6 426.0,445.1 414.0,445.1" fill="#2F6E86"/>
<polygon points="439.3,454.4 445.3,464.9 433.3,464.9" fill="#2F6E86"/>
<polygon points="458.7,462.1 464.7,472.6 452.7,472.6" fill="#2F6E86"/>
<polygon points="478.0,447.2 484.0,457.7 472.0,457.7" fill="#2F6E86"/>
<polygon points="497.3,414.6 503.3,425.1 491.3,425.1" fill="#2F6E86"/>
<polygon points="516.7,427.1 522.7,437.6 510.7,437.6" fill="#2F6E86"/>
<polygon points="536.0,423.0 542.0,433.5 530.0,433.5" fill="#2F6E86"/>
<polygon points="555.3,398.9 561.3,409.4 549.3,409.4" fill="#2F6E86"/>
<polygon points="574.7,389.6 580.7,400.1 568.7,400.1" fill="#2F6E86"/>
<polygon points="594.0,393.8 600.0,404.3 588.0,404.3" fill="#2F6E86"/>
<polygon points="613.3,383.5 619.3,394.0 607.3,394.0" fill="#2F6E86"/>
<polygon points="632.7,368.8 638.7,379.3 626.7,379.3" fill="#2F6E86"/>
<polygon points="652.0,350.4 658.0,360.9 646.0,360.9" fill="#2F6E86"/>
<polygon points="671.3,368.0 677.3,378.5 665.3,378.5" fill="#2F6E86"/>
<polygon points="690.7,331.5 696.7,342.0 684.7,342.0" fill="#2F6E86"/>
<polygon points="710.0,291.6 716.0,302.1 704.0,302.1" fill="#2F6E86"/>
<polygon points="729.4,327.9 735.4,338.4 723.4,338.4" fill="#2F6E86"/>
<polygon points="748.7,267.8 754.7,278.3 742.7,278.3" fill="#2F6E86"/>
<polygon points="768.0,287.1 774.0,297.6 762.0,297.6" fill="#2F6E86"/>
<polygon points="787.4,288.3 793.4,298.8 781.4,298.8" fill="#2F6E86"/>
<polygon points="806.7,301.6 812.7,312.1 800.7,312.1" fill="#2F6E86"/>
<polygon points="826.0,307.4 832.0,317.9 820.0,317.9" fill="#2F6E86"/>
<polygon points="845.4,302.1 851.4,312.6 839.4,312.6" fill="#2F6E86"/>
<polygon points="864.7,309.5 870.7,320.0 858.7,320.0" fill="#2F6E86"/>
<polygon points="884.0,281.3 890.0,291.8 878.0,291.8" fill="#2F6E86"/>
<polygon points="903.4,312.1 909.4,322.6 897.4,322.6" fill="#2F6E86"/>
<polygon points="922.7,218.1 928.7,228.6 916.7,228.6" fill="#2F6E86"/>
<polygon points="942.0,174.1 948.0,184.6 936.0,184.6" fill="#2F6E86"/>
<polygon points="961.4,203.4 967.4,213.9 955.4,213.9" fill="#2F6E86"/>
<polygon points="980.7,97.3 986.7,107.8 974.7,107.8" fill="#2F6E86"/>
<polygon points="1000.0,137.8 1006.0,148.3 994.0,148.3" fill="#2F6E86"/>
<polygon points="1019.4,232.8 1025.4,243.3 1013.4,243.3" fill="#2F6E86"/>
<polygon points="1038.7,175.4 1044.7,185.9 1032.7,185.9" fill="#2F6E86"/>
<polygon points="1058.0,176.6 1064.0,187.1 1052.0,187.1" fill="#2F6E86"/>
<polygon points="1077.4,272.8 1083.4,283.3 1071.4,283.3" fill="#2F6E86"/>
<polygon points="1096.7,230.8 1102.7,241.3 1090.7,241.3" fill="#2F6E86"/>
<polygon points="1116.0,207.1 1122.0,217.6 1110.0,217.6" fill="#2F6E86"/>
<polygon points="1135.4,264.6 1141.4,275.1 1129.4,275.1" fill="#2F6E86"/>
<polygon points="1154.7,313.4 1160.7,323.9 1148.7,323.9" fill="#2F6E86"/>
<polygon points="1174.0,335.4 1180.0,345.9 1168.0,345.9" fill="#2F6E86"/>
</g>
<g opacity="0.16" filter="url(#halo)"><polyline points="188.0,366.0 207.3,352.1 226.7,380.2 246.0,410.6 265.3,415.3 284.7,435.0 304.0,445.3 323.3,450.0 342.7,455.6 362.0,458.4 381.3,473.4 400.7,483.7 420.0,480.9 439.3,500.7 458.7,501.8 478.0,487.2 497.3,482.2 516.7,493.8 536.0,481.2 555.3,489.7 574.7,485.0 594.0,482.7 613.3,495.3 632.7,498.1 652.0,484.4 671.3,490.6 690.7,483.3 710.0,482.0 729.4,482.6 748.7,481.5 768.0,480.2 787.4,485.2 806.7,470.7 826.0,478.7 845.4,461.8 864.7,477.7 884.0,463.7 903.4,467.5 922.7,452.8 942.0,462.0 961.4,454.3 980.7,448.8 1000.0,462.6 1019.4,445.1 1038.7,408.0 1058.0,401.8 1077.4,452.6 1096.7,444.0 1116.0,449.0 1135.4,449.6 1154.7,454.0 1174.0,456.0" fill="none" stroke="#B5508F" stroke-width="7.5"/></g>
<g filter="url(#b35)">
<polyline points="188.0,366.0 207.3,352.1 226.7,380.2 246.0,410.6 265.3,415.3 284.7,435.0 304.0,445.3 323.3,450.0 342.7,455.6 362.0,458.4 381.3,473.4 400.7,483.7 420.0,480.9 439.3,500.7 458.7,501.8 478.0,487.2 497.3,482.2 516.7,493.8 536.0,481.2 555.3,489.7 574.7,485.0 594.0,482.7 613.3,495.3 632.7,498.1 652.0,484.4 671.3,490.6 690.7,483.3 710.0,482.0 729.4,482.6 748.7,481.5 768.0,480.2 787.4,485.2 806.7,470.7 826.0,478.7 845.4,461.8 864.7,477.7 884.0,463.7 903.4,467.5 922.7,452.8 942.0,462.0 961.4,454.3 980.7,448.8 1000.0,462.6 1019.4,445.1 1038.7,408.0 1058.0,401.8 1077.4,452.6 1096.7,444.0 1116.0,449.0 1135.4,449.6 1154.7,454.0 1174.0,456.0" fill="none" stroke="#B5508F" stroke-width="2.5" stroke-linejoin="round"/>
<polygon points="188.0,361.0 193.0,366.0 188.0,371.0 183.0,366.0" fill="#fff" stroke="#B5508F" stroke-width="1.3"/>
<polygon points="207.3,347.1 212.3,352.1 207.3,357.1 202.3,352.1" fill="#fff" stroke="#B5508F" stroke-width="1.3"/>
<polygon points="226.7,375.2 231.7,380.2 226.7,385.2 221.7,380.2" fill="#fff" stroke="#B5508F" stroke-width="1.3"/>
<polygon points="246.0,405.6 251.0,410.6 246.0,415.6 241.0,410.6" fill="#fff" stroke="#B5508F" stroke-width="1.3"/>
<polygon points="265.3,410.3 270.3,415.3 265.3,420.3 260.3,415.3" fill="#fff" stroke="#B5508F" stroke-width="1.3"/>
<polygon points="284.7,430.0 289.7,435.0 284.7,440.0 279.7,435.0" fill="#fff" stroke="#B5508F" stroke-width="1.3"/>
<polygon points="304.0,440.3 309.0,445.3 304.0,450.3 299.0,445.3" fill="#fff" stroke="#B5508F" stroke-width="1.3"/>
<polygon points="323.3,445.0 328.3,450.0 323.3,455.0 318.3,450.0" fill="#fff" stroke="#B5508F" stroke-width="1.3"/>
<polygon points="342.7,450.6 347.7,455.6 342.7,460.6 337.7,455.6" fill="#fff" stroke="#B5508F" stroke-width="1.3"/>
<polygon points="362.0,453.4 367.0,458.4 362.0,463.4 357.0,458.4" fill="#fff" stroke="#B5508F" stroke-width="1.3"/>
<polygon points="381.3,468.4 386.3,473.4 381.3,478.4 376.3,473.4" fill="#fff" stroke="#B5508F" stroke-width="1.3"/>
<polygon points="400.7,478.7 405.7,483.7 400.7,488.7 395.7,483.7" fill="#fff" stroke="#B5508F" stroke-width="1.3"/>
<polygon points="420.0,475.9 425.0,480.9 420.0,485.9 415.0,480.9" fill="#fff" stroke="#B5508F" stroke-width="1.3"/>
<polygon points="439.3,495.7 444.3,500.7 439.3,505.7 434.3,500.7" fill="#fff" stroke="#B5508F" stroke-width="1.3"/>
<polygon points="458.7,496.8 463.7,501.8 458.7,506.8 453.7,501.8" fill="#fff" stroke="#B5508F" stroke-width="1.3"/>
<polygon points="478.0,482.2 483.0,487.2 478.0,492.2 473.0,487.2" fill="#fff" stroke="#B5508F" stroke-width="1.3"/>
<polygon points="497.3,477.2 502.3,482.2 497.3,487.2 492.3,482.2" fill="#fff" stroke="#B5508F" stroke-width="1.3"/>
<polygon points="516.7,488.8 521.7,493.8 516.7,498.8 511.7,493.8" fill="#fff" stroke="#B5508F" stroke-width="1.3"/>
<polygon points="536.0,476.2 541.0,481.2 536.0,486.2 531.0,481.2" fill="#fff" stroke="#B5508F" stroke-width="1.3"/>
<polygon points="555.3,484.7 560.3,489.7 555.3,494.7 550.3,489.7" fill="#fff" stroke="#B5508F" stroke-width="1.3"/>
<polygon points="574.7,480.0 579.7,485.0 574.7,490.0 569.7,485.0" fill="#fff" stroke="#B5508F" stroke-width="1.3"/>
<polygon points="594.0,477.7 599.0,482.7 594.0,487.7 589.0,482.7" fill="#fff" stroke="#B5508F" stroke-width="1.3"/>
<polygon points="613.3,490.3 618.3,495.3 613.3,500.3 608.3,495.3" fill="#fff" stroke="#B5508F" stroke-width="1.3"/>
<polygon points="632.7,493.1 637.7,498.1 632.7,503.1 627.7,498.1" fill="#fff" stroke="#B5508F" stroke-width="1.3"/>
<polygon points="652.0,479.4 657.0,484.4 652.0,489.4 647.0,484.4" fill="#fff" stroke="#B5508F" stroke-width="1.3"/>
<polygon points="671.3,485.6 676.3,490.6 671.3,495.6 666.3,490.6" fill="#fff" stroke="#B5508F" stroke-width="1.3"/>
<polygon points="690.7,478.3 695.7,483.3 690.7,488.3 685.7,483.3" fill="#fff" stroke="#B5508F" stroke-width="1.3"/>
<polygon points="710.0,477.0 715.0,482.0 710.0,487.0 705.0,482.0" fill="#fff" stroke="#B5508F" stroke-width="1.3"/>
<polygon points="729.4,477.6 734.4,482.6 729.4,487.6 724.4,482.6" fill="#fff" stroke="#B5508F" stroke-width="1.3"/>
<polygon points="748.7,476.5 753.7,481.5 748.7,486.5 743.7,481.5" fill="#fff" stroke="#B5508F" stroke-width="1.3"/>
<polygon points="768.0,475.2 773.0,480.2 768.0,485.2 763.0,480.2" fill="#fff" stroke="#B5508F" stroke-width="1.3"/>
<polygon points="787.4,480.2 792.4,485.2 787.4,490.2 782.4,485.2" fill="#fff" stroke="#B5508F" stroke-width="1.3"/>
<polygon points="806.7,465.7 811.7,470.7 806.7,475.7 801.7,470.7" fill="#fff" stroke="#B5508F" stroke-width="1.3"/>
<polygon points="826.0,473.7 831.0,478.7 826.0,483.7 821.0,478.7" fill="#fff" stroke="#B5508F" stroke-width="1.3"/>
<polygon points="845.4,456.8 850.4,461.8 845.4,466.8 840.4,461.8" fill="#fff" stroke="#B5508F" stroke-width="1.3"/>
<polygon points="864.7,472.7 869.7,477.7 864.7,482.7 859.7,477.7" fill="#fff" stroke="#B5508F" stroke-width="1.3"/>
<polygon points="884.0,458.7 889.0,463.7 884.0,468.7 879.0,463.7" fill="#fff" stroke="#B5508F" stroke-width="1.3"/>
<polygon points="903.4,462.5 908.4,467.5 903.4,472.5 898.4,467.5" fill="#fff" stroke="#B5508F" stroke-width="1.3"/>
<polygon points="922.7,447.8 927.7,452.8 922.7,457.8 917.7,452.8" fill="#fff" stroke="#B5508F" stroke-width="1.3"/>
<polygon points="942.0,457.0 947.0,462.0 942.0,467.0 937.0,462.0" fill="#fff" stroke="#B5508F" stroke-width="1.3"/>
<polygon points="961.4,449.3 966.4,454.3 961.4,459.3 956.4,454.3" fill="#fff" stroke="#B5508F" stroke-width="1.3"/>
<polygon points="980.7,443.8 985.7,448.8 980.7,453.8 975.7,448.8" fill="#fff" stroke="#B5508F" stroke-width="1.3"/>
<polygon points="1000.0,457.6 1005.0,462.6 1000.0,467.6 995.0,462.6" fill="#fff" stroke="#B5508F" stroke-width="1.3"/>
<polygon points="1019.4,440.1 1024.4,445.1 1019.4,450.1 1014.4,445.1" fill="#fff" stroke="#B5508F" stroke-width="1.3"/>
<polygon points="1038.7,403.0 1043.7,408.0 1038.7,413.0 1033.7,408.0" fill="#fff" stroke="#B5508F" stroke-width="1.3"/>
<polygon points="1058.0,396.8 1063.0,401.8 1058.0,406.8 1053.0,401.8" fill="#fff" stroke="#B5508F" stroke-width="1.3"/>
<polygon points="1077.4,447.6 1082.4,452.6 1077.4,457.6 1072.4,452.6" fill="#fff" stroke="#B5508F" stroke-width="1.3"/>
<polygon points="1096.7,439.0 1101.7,444.0 1096.7,449.0 1091.7,444.0" fill="#fff" stroke="#B5508F" stroke-width="1.3"/>
<polygon points="1116.0,444.0 1121.0,449.0 1116.0,454.0 1111.0,449.0" fill="#fff" stroke="#B5508F" stroke-width="1.3"/>
<polygon points="1135.4,444.6 1140.4,449.6 1135.4,454.6 1130.4,449.6" fill="#fff" stroke="#B5508F" stroke-width="1.3"/>
<polygon points="1154.7,449.0 1159.7,454.0 1154.7,459.0 1149.7,454.0" fill="#fff" stroke="#B5508F" stroke-width="1.3"/>
<polygon points="1174.0,451.0 1179.0,456.0 1174.0,461.0 1169.0,456.0" fill="#fff" stroke="#B5508F" stroke-width="1.3"/>
</g>
<g opacity="0.16" filter="url(#halo)"><polyline points="188.0,495.9 207.3,485.6 226.7,480.0 246.0,496.9 265.3,510.9 284.7,504.3 304.0,513.7 323.3,519.3 342.7,521.2 362.0,519.9 381.3,496.5 400.7,519.3 420.0,508.1 439.3,516.7 458.7,522.5 478.0,519.6 497.3,504.7 516.7,530.0 536.0,515.0 555.3,503.7 574.7,512.2 594.0,512.0 613.3,503.7 632.7,512.0 652.0,518.7 671.3,487.8 690.7,491.5 710.0,505.8 729.4,505.8 748.7,488.0 768.0,485.2 787.4,489.4 806.7,477.8 826.0,496.5 845.4,489.0 864.7,490.5 884.0,486.0 903.4,485.2 922.7,482.6 942.0,468.4 961.4,460.8 980.7,463.3 1000.0,456.3 1019.4,466.3 1038.7,456.3 1058.0,455.6 1077.4,460.8 1096.7,430.5 1116.0,449.6 1135.4,467.6 1154.7,450.8 1174.0,461.3" fill="none" stroke="#F28B86" stroke-width="7.9"/></g>
<g filter="url(#b60)">
<polyline points="188.0,495.9 207.3,485.6 226.7,480.0 246.0,496.9 265.3,510.9 284.7,504.3 304.0,513.7 323.3,519.3 342.7,521.2 362.0,519.9 381.3,496.5 400.7,519.3 420.0,508.1 439.3,516.7 458.7,522.5 478.0,519.6 497.3,504.7 516.7,530.0 536.0,515.0 555.3,503.7 574.7,512.2 594.0,512.0 613.3,503.7 632.7,512.0 652.0,518.7 671.3,487.8 690.7,491.5 710.0,505.8 729.4,505.8 748.7,488.0 768.0,485.2 787.4,489.4 806.7,477.8 826.0,496.5 845.4,489.0 864.7,490.5 884.0,486.0 903.4,485.2 922.7,482.6 942.0,468.4 961.4,460.8 980.7,463.3 1000.0,456.3 1019.4,466.3 1038.7,456.3 1058.0,455.6 1077.4,460.8 1096.7,430.5 1116.0,449.6 1135.4,467.6 1154.7,450.8 1174.0,461.3" fill="none" stroke="#F28B86" stroke-width="2.9" stroke-linejoin="round"/>
<rect x="183.0" y="490.9" width="10" height="10" fill="#EA5565"/>
<rect x="202.3" y="480.6" width="10" height="10" fill="#EA5565"/>
<rect x="221.7" y="475.0" width="10" height="10" fill="#EA5565"/>
<rect x="241.0" y="491.9" width="10" height="10" fill="#EA5565"/>
<rect x="260.3" y="505.9" width="10" height="10" fill="#EA5565"/>
<rect x="279.7" y="499.3" width="10" height="10" fill="#EA5565"/>
<rect x="299.0" y="508.7" width="10" height="10" fill="#EA5565"/>
<rect x="318.3" y="514.3" width="10" height="10" fill="#EA5565"/>
<rect x="337.7" y="516.2" width="10" height="10" fill="#EA5565"/>
<rect x="357.0" y="514.9" width="10" height="10" fill="#EA5565"/>
<rect x="376.3" y="491.5" width="10" height="10" fill="#EA5565"/>
<rect x="395.7" y="514.3" width="10" height="10" fill="#EA5565"/>
<rect x="415.0" y="503.1" width="10" height="10" fill="#EA5565"/>
<rect x="434.3" y="511.7" width="10" height="10" fill="#EA5565"/>
<rect x="453.7" y="517.5" width="10" height="10" fill="#EA5565"/>
<rect x="473.0" y="514.6" width="10" height="10" fill="#EA5565"/>
<rect x="492.3" y="499.7" width="10" height="10" fill="#EA5565"/>
<rect x="511.7" y="525.0" width="10" height="10" fill="#EA5565"/>
<rect x="531.0" y="510.0" width="10" height="10" fill="#EA5565"/>
<rect x="550.3" y="498.7" width="10" height="10" fill="#EA5565"/>
<rect x="569.7" y="507.2" width="10" height="10" fill="#EA5565"/>
<rect x="589.0" y="507.0" width="10" height="10" fill="#EA5565"/>
<rect x="608.3" y="498.7" width="10" height="10" fill="#EA5565"/>
<rect x="627.7" y="507.0" width="10" height="10" fill="#EA5565"/>
<rect x="647.0" y="513.7" width="10" height="10" fill="#EA5565"/>
<rect x="666.3" y="482.8" width="10" height="10" fill="#EA5565"/>
<rect x="685.7" y="486.5" width="10" height="10" fill="#EA5565"/>
<rect x="705.0" y="500.8" width="10" height="10" fill="#EA5565"/>
<rect x="724.4" y="500.8" width="10" height="10" fill="#EA5565"/>
<rect x="743.7" y="483.0" width="10" height="10" fill="#EA5565"/>
<rect x="763.0" y="480.2" width="10" height="10" fill="#EA5565"/>
<rect x="782.4" y="484.4" width="10" height="10" fill="#EA5565"/>
<rect x="801.7" y="472.8" width="10" height="10" fill="#EA5565"/>
<rect x="821.0" y="491.5" width="10" height="10" fill="#EA5565"/>
<rect x="840.4" y="484.0" width="10" height="10" fill="#EA5565"/>
<rect x="859.7" y="485.5" width="10" height="10" fill="#EA5565"/>
<rect x="879.0" y="481.0" width="10" height="10" fill="#EA5565"/>
<rect x="898.4" y="480.2" width="10" height="10" fill="#EA5565"/>
<rect x="917.7" y="477.6" width="10" height="10" fill="#EA5565"/>
<rect x="937.0" y="463.4" width="10" height="10" fill="#EA5565"/>
<rect x="956.4" y="455.8" width="10" height="10" fill="#EA5565"/>
<rect x="975.7" y="458.3" width="10" height="10" fill="#EA5565"/>
<rect x="995.0" y="451.3" width="10" height="10" fill="#EA5565"/>
<rect x="1014.4" y="461.3" width="10" height="10" fill="#EA5565"/>
<rect x="1033.7" y="451.3" width="10" height="10" fill="#EA5565"/>
<rect x="1053.0" y="450.6" width="10" height="10" fill="#EA5565"/>
<rect x="1072.4" y="455.8" width="10" height="10" fill="#EA5565"/>
<rect x="1091.7" y="425.5" width="10" height="10" fill="#EA5565"/>
<rect x="1111.0" y="444.6" width="10" height="10" fill="#EA5565"/>
<rect x="1130.4" y="462.6" width="10" height="10" fill="#EA5565"/>
<rect x="1149.7" y="445.8" width="10" height="10" fill="#EA5565"/>
<rect x="1169.0" y="456.3" width="10" height="10" fill="#EA5565"/>
</g>
<g>
<polyline points="188.0,509.5 207.3,471.6 226.7,488.8 246.0,478.1 265.3,490.7 284.7,502.0 304.0,515.6 323.3,512.8 342.7,497.4 362.0,512.8 381.3,513.7 400.7,526.8 420.0,514.7 439.3,527.0 458.7,518.7 478.0,512.2 497.3,524.3 516.7,517.8 536.0,524.3 555.3,515.0 574.7,525.3 594.0,511.7 613.3,512.2 632.7,514.7 652.0,514.7 671.3,499.6 690.7,511.2 710.0,511.1 729.4,509.3 748.7,503.1 768.0,506.8 787.4,505.2 806.7,498.8 826.0,490.0 845.4,484.3 864.7,469.2 884.0,477.1 903.4,455.9 922.7,472.4 942.0,447.0 961.4,443.8 980.7,453.8 1000.0,448.1 1019.4,430.1 1038.7,429.5 1058.0,408.8 1077.4,410.0 1096.7,447.1 1116.0,420.5 1135.4,429.5 1154.7,420.5 1174.0,452.1" fill="none" stroke="#9C9A6C" stroke-width="2.0" stroke-linejoin="round"/>
<polygon points="188.0,504.0 193.0,513.5 183.0,513.5" fill="#fdfdf4" stroke="#97986A" stroke-width="1.2"/>
<polygon points="207.3,466.1 212.3,475.6 202.3,475.6" fill="#fdfdf4" stroke="#97986A" stroke-width="1.2"/>
<polygon points="226.7,483.3 231.7,492.8 221.7,492.8" fill="#fdfdf4" stroke="#97986A" stroke-width="1.2"/>
<polygon points="246.0,472.6 251.0,482.1 241.0,482.1" fill="#fdfdf4" stroke="#97986A" stroke-width="1.2"/>
<polygon points="265.3,485.2 270.3,494.7 260.3,494.7" fill="#fdfdf4" stroke="#97986A" stroke-width="1.2"/>
<polygon points="284.7,496.5 289.7,506.0 279.7,506.0" fill="#fdfdf4" stroke="#97986A" stroke-width="1.2"/>
<polygon points="304.0,510.1 309.0,519.6 299.0,519.6" fill="#fdfdf4" stroke="#97986A" stroke-width="1.2"/>
<polygon points="323.3,507.3 328.3,516.8 318.3,516.8" fill="#fdfdf4" stroke="#97986A" stroke-width="1.2"/>
<polygon points="342.7,491.9 347.7,501.4 337.7,501.4" fill="#fdfdf4" stroke="#97986A" stroke-width="1.2"/>
<polygon points="362.0,507.3 367.0,516.8 357.0,516.8" fill="#fdfdf4" stroke="#97986A" stroke-width="1.2"/>
<polygon points="381.3,508.2 386.3,517.7 376.3,517.7" fill="#fdfdf4" stroke="#97986A" stroke-width="1.2"/>
<polygon points="400.7,521.3 405.7,530.8 395.7,530.8" fill="#fdfdf4" stroke="#97986A" stroke-width="1.2"/>
<polygon points="420.0,509.2 425.0,518.7 415.0,518.7" fill="#fdfdf4" stroke="#97986A" stroke-width="1.2"/>
<polygon points="439.3,521.5 444.3,531.0 434.3,531.0" fill="#fdfdf4" stroke="#97986A" stroke-width="1.2"/>
<polygon points="458.7,513.2 463.7,522.7 453.7,522.7" fill="#fdfdf4" stroke="#97986A" stroke-width="1.2"/>
<polygon points="478.0,506.7 483.0,516.2 473.0,516.2" fill="#fdfdf4" stroke="#97986A" stroke-width="1.2"/>
<polygon points="497.3,518.8 502.3,528.3 492.3,528.3" fill="#fdfdf4" stroke="#97986A" stroke-width="1.2"/>
<polygon points="516.7,512.3 521.7,521.8 511.7,521.8" fill="#fdfdf4" stroke="#97986A" stroke-width="1.2"/>
<polygon points="536.0,518.8 541.0,528.3 531.0,528.3" fill="#fdfdf4" stroke="#97986A" stroke-width="1.2"/>
<polygon points="555.3,509.5 560.3,519.0 550.3,519.0" fill="#fdfdf4" stroke="#97986A" stroke-width="1.2"/>
<polygon points="574.7,519.8 579.7,529.3 569.7,529.3" fill="#fdfdf4" stroke="#97986A" stroke-width="1.2"/>
<polygon points="594.0,506.2 599.0,515.7 589.0,515.7" fill="#fdfdf4" stroke="#97986A" stroke-width="1.2"/>
<polygon points="613.3,506.7 618.3,516.2 608.3,516.2" fill="#fdfdf4" stroke="#97986A" stroke-width="1.2"/>
<polygon points="632.7,509.2 637.7,518.7 627.7,518.7" fill="#fdfdf4" stroke="#97986A" stroke-width="1.2"/>
<polygon points="652.0,509.2 657.0,518.7 647.0,518.7" fill="#fdfdf4" stroke="#97986A" stroke-width="1.2"/>
<polygon points="671.3,494.1 676.3,503.6 666.3,503.6" fill="#fdfdf4" stroke="#97986A" stroke-width="1.2"/>
<polygon points="690.7,505.7 695.7,515.2 685.7,515.2" fill="#fdfdf4" stroke="#97986A" stroke-width="1.2"/>
<polygon points="710.0,505.6 715.0,515.1 705.0,515.1" fill="#fdfdf4" stroke="#97986A" stroke-width="1.2"/>
<polygon points="729.4,503.8 734.4,513.3 724.4,513.3" fill="#fdfdf4" stroke="#97986A" stroke-width="1.2"/>
<polygon points="748.7,497.6 753.7,507.1 743.7,507.1" fill="#fdfdf4" stroke="#97986A" stroke-width="1.2"/>
<polygon points="768.0,501.3 773.0,510.8 763.0,510.8" fill="#fdfdf4" stroke="#97986A" stroke-width="1.2"/>
<polygon points="787.4,499.7 792.4,509.2 782.4,509.2" fill="#fdfdf4" stroke="#97986A" stroke-width="1.2"/>
<polygon points="806.7,493.3 811.7,502.8 801.7,502.8" fill="#fdfdf4" stroke="#97986A" stroke-width="1.2"/>
<polygon points="826.0,484.5 831.0,494.0 821.0,494.0" fill="#fdfdf4" stroke="#97986A" stroke-width="1.2"/>
<polygon points="845.4,478.8 850.4,488.3 840.4,488.3" fill="#fdfdf4" stroke="#97986A" stroke-width="1.2"/>
<polygon points="864.7,463.7 869.7,473.2 859.7,473.2" fill="#fdfdf4" stroke="#97986A" stroke-width="1.2"/>
<polygon points="884.0,471.6 889.0,481.1 879.0,481.1" fill="#fdfdf4" stroke="#97986A" stroke-width="1.2"/>
<polygon points="903.4,450.4 908.4,459.9 898.4,459.9" fill="#fdfdf4" stroke="#97986A" stroke-width="1.2"/>
<polygon points="922.7,466.9 927.7,476.4 917.7,476.4" fill="#fdfdf4" stroke="#97986A" stroke-width="1.2"/>
<polygon points="942.0,441.5 947.0,451.0 937.0,451.0" fill="#fdfdf4" stroke="#97986A" stroke-width="1.2"/>
<polygon points="961.4,438.3 966.4,447.8 956.4,447.8" fill="#fdfdf4" stroke="#97986A" stroke-width="1.2"/>
<polygon points="980.7,448.3 985.7,457.8 975.7,457.8" fill="#fdfdf4" stroke="#97986A" stroke-width="1.2"/>
<polygon points="1000.0,442.6 1005.0,452.1 995.0,452.1" fill="#fdfdf4" stroke="#97986A" stroke-width="1.2"/>
<polygon points="1019.4,424.6 1024.4,434.1 1014.4,434.1" fill="#fdfdf4" stroke="#97986A" stroke-width="1.2"/>
<polygon points="1038.7,424.0 1043.7,433.5 1033.7,433.5" fill="#fdfdf4" stroke="#97986A" stroke-width="1.2"/>
<polygon points="1058.0,403.3 1063.0,412.8 1053.0,412.8" fill="#fdfdf4" stroke="#97986A" stroke-width="1.2"/>
<polygon points="1077.4,404.5 1082.4,414.0 1072.4,414.0" fill="#fdfdf4" stroke="#97986A" stroke-width="1.2"/>
<polygon points="1096.7,441.6 1101.7,451.1 1091.7,451.1" fill="#fdfdf4" stroke="#97986A" stroke-width="1.2"/>
<polygon points="1116.0,415.0 1121.0,424.5 1111.0,424.5" fill="#fdfdf4" stroke="#97986A" stroke-width="1.2"/>
<polygon points="1135.4,424.0 1140.4,433.5 1130.4,433.5" fill="#fdfdf4" stroke="#97986A" stroke-width="1.2"/>
<polygon points="1154.7,415.0 1159.7,424.5 1149.7,424.5" fill="#fdfdf4" stroke="#97986A" stroke-width="1.2"/>
<polygon points="1174.0,446.6 1179.0,456.1 1169.0,456.1" fill="#fdfdf4" stroke="#97986A" stroke-width="1.2"/>
</g>
<g>
<polyline points="188.0,508.0 207.3,429.4 226.7,460.8 246.0,466.8 265.3,467.4 284.7,471.9 304.0,471.9 323.3,443.0 342.7,453.7 362.0,454.7 381.3,433.5 400.7,485.6 420.0,494.0 439.3,491.3 458.7,487.8 478.0,503.7 497.3,488.4 516.7,522.5 536.0,530.5 555.3,523.4 574.7,534.6 594.0,533.0 613.3,531.3 632.7,528.1 652.0,538.4 671.3,539.1 690.7,537.5 710.0,537.8 729.4,538.4 748.7,535.2 768.0,530.5 787.4,525.3 806.7,538.1 826.0,535.2 845.4,536.2 864.7,533.9 884.0,534.4 903.4,535.2 922.7,545.2 942.0,534.7 961.4,534.2 980.7,530.9 1000.0,533.2 1019.4,537.7 1038.7,541.4 1058.0,533.4 1077.4,535.7 1096.7,540.2 1116.0,538.2 1135.4,538.7 1154.7,541.9 1174.0,540.7 1193.4,543.9" fill="none" stroke="#0AA25C" stroke-width="2.1" stroke-linejoin="round"/>
<polygon points="188.0,501.8 193.8,508.0 188.0,514.2 182.2,508.0" fill="#0B9E55"/>
<polygon points="207.3,423.2 213.1,429.4 207.3,435.6 201.5,429.4" fill="#0B9E55"/>
<polygon points="226.7,454.6 232.5,460.8 226.7,467.0 220.9,460.8" fill="#0B9E55"/>
<polygon points="246.0,460.6 251.8,466.8 246.0,473.0 240.2,466.8" fill="#0B9E55"/>
<polygon points="265.3,461.2 271.1,467.4 265.3,473.6 259.5,467.4" fill="#0B9E55"/>
<polygon points="284.7,465.7 290.5,471.9 284.7,478.1 278.9,471.9" fill="#0B9E55"/>
<polygon points="304.0,465.7 309.8,471.9 304.0,478.1 298.2,471.9" fill="#0B9E55"/>
<polygon points="323.3,436.8 329.1,443.0 323.3,449.2 317.5,443.0" fill="#0B9E55"/>
<polygon points="342.7,447.5 348.5,453.7 342.7,459.9 336.9,453.7" fill="#0B9E55"/>
<polygon points="362.0,448.5 367.8,454.7 362.0,460.9 356.2,454.7" fill="#0B9E55"/>
<polygon points="381.3,427.3 387.1,433.5 381.3,439.7 375.5,433.5" fill="#0B9E55"/>
<polygon points="400.7,479.4 406.5,485.6 400.7,491.8 394.9,485.6" fill="#0B9E55"/>
<polygon points="420.0,487.8 425.8,494.0 420.0,500.2 414.2,494.0" fill="#0B9E55"/>
<polygon points="439.3,485.1 445.1,491.3 439.3,497.5 433.5,491.3" fill="#0B9E55"/>
<polygon points="458.7,481.6 464.5,487.8 458.7,494.0 452.9,487.8" fill="#0B9E55"/>
<polygon points="478.0,497.5 483.8,503.7 478.0,509.9 472.2,503.7" fill="#0B9E55"/>
<polygon points="497.3,482.2 503.1,488.4 497.3,494.6 491.5,488.4" fill="#0B9E55"/>
<polygon points="516.7,516.3 522.5,522.5 516.7,528.7 510.9,522.5" fill="#0B9E55"/>
<polygon points="536.0,524.3 541.8,530.5 536.0,536.7 530.2,530.5" fill="#0B9E55"/>
<polygon points="555.3,517.2 561.1,523.4 555.3,529.6 549.5,523.4" fill="#0B9E55"/>
<polygon points="574.7,528.4 580.5,534.6 574.7,540.8 568.9,534.6" fill="#0B9E55"/>
<polygon points="594.0,526.8 599.8,533.0 594.0,539.2 588.2,533.0" fill="#0B9E55"/>
<polygon points="613.3,525.1 619.1,531.3 613.3,537.5 607.5,531.3" fill="#0B9E55"/>
<polygon points="632.7,521.9 638.5,528.1 632.7,534.3 626.9,528.1" fill="#0B9E55"/>
<polygon points="652.0,532.2 657.8,538.4 652.0,544.6 646.2,538.4" fill="#0B9E55"/>
<polygon points="671.3,532.9 677.1,539.1 671.3,545.3 665.5,539.1" fill="#0B9E55"/>
<polygon points="690.7,531.3 696.5,537.5 690.7,543.7 684.9,537.5" fill="#0B9E55"/>
<polygon points="710.0,531.6 715.8,537.8 710.0,544.0 704.2,537.8" fill="#0B9E55"/>
<polygon points="729.4,532.2 735.2,538.4 729.4,544.6 723.6,538.4" fill="#0B9E55"/>
<polygon points="748.7,529.0 754.5,535.2 748.7,541.4 742.9,535.2" fill="#0B9E55"/>
<polygon points="768.0,524.3 773.8,530.5 768.0,536.7 762.2,530.5" fill="#0B9E55"/>
<polygon points="787.4,519.1 793.2,525.3 787.4,531.5 781.6,525.3" fill="#0B9E55"/>
<polygon points="806.7,531.9 812.5,538.1 806.7,544.3 800.9,538.1" fill="#0B9E55"/>
<polygon points="826.0,529.0 831.8,535.2 826.0,541.4 820.2,535.2" fill="#0B9E55"/>
<polygon points="845.4,530.0 851.2,536.2 845.4,542.4 839.6,536.2" fill="#0B9E55"/>
<polygon points="864.7,527.7 870.5,533.9 864.7,540.1 858.9,533.9" fill="#0B9E55"/>
<polygon points="884.0,528.2 889.8,534.4 884.0,540.6 878.2,534.4" fill="#0B9E55"/>
<polygon points="903.4,529.0 909.2,535.2 903.4,541.4 897.6,535.2" fill="#0B9E55"/>
<polygon points="922.7,539.0 928.5,545.2 922.7,551.4 916.9,545.2" fill="#0B9E55"/>
<polygon points="942.0,528.5 947.8,534.7 942.0,540.9 936.2,534.7" fill="#0B9E55"/>
<polygon points="961.4,528.0 967.2,534.2 961.4,540.4 955.6,534.2" fill="#0B9E55"/>
<polygon points="980.7,524.7 986.5,530.9 980.7,537.1 974.9,530.9" fill="#0B9E55"/>
<polygon points="1000.0,527.0 1005.8,533.2 1000.0,539.4 994.2,533.2" fill="#0B9E55"/>
<polygon points="1019.4,531.5 1025.2,537.7 1019.4,543.9 1013.6,537.7" fill="#0B9E55"/>
<polygon points="1038.7,535.2 1044.5,541.4 1038.7,547.6 1032.9,541.4" fill="#0B9E55"/>
<polygon points="1058.0,527.2 1063.8,533.4 1058.0,539.6 1052.2,533.4" fill="#0B9E55"/>
<polygon points="1077.4,529.5 1083.2,535.7 1077.4,541.9 1071.6,535.7" fill="#0B9E55"/>
<polygon points="1096.7,534.0 1102.5,540.2 1096.7,546.4 1090.9,540.2" fill="#0B9E55"/>
<polygon points="1116.0,532.0 1121.8,538.2 1116.0,544.4 1110.2,538.2" fill="#0B9E55"/>
<polygon points="1135.4,532.5 1141.2,538.7 1135.4,544.9 1129.6,538.7" fill="#0B9E55"/>
<polygon points="1154.7,535.7 1160.5,541.9 1154.7,548.1 1148.9,541.9" fill="#0B9E55"/>
<polygon points="1174.0,534.5 1179.8,540.7 1174.0,546.9 1168.2,540.7" fill="#0B9E55"/>
<polygon points="1193.4,537.7 1199.2,543.9 1193.4,550.1 1187.6,543.9" fill="#0B9E55"/>
</g>
<g opacity="0.16" filter="url(#halo)"><polyline points="188.0,540.5 207.3,539.6 226.7,541.3 246.0,541.5 265.3,541.8 284.7,546.5 304.0,545.2 323.3,544.6 342.7,542.8 362.0,537.1 381.3,541.8 400.7,546.5 420.0,544.6 439.3,548.2 458.7,547.8 478.0,544.9 497.3,544.9 516.7,544.0 536.0,541.2 555.3,542.3 574.7,547.3 594.0,541.2 613.3,545.9 632.7,540.7 652.0,548.7" fill="none" stroke="#E12A22" stroke-width="11.2"/></g>
<g filter="url(#b90)">
<polyline points="188.0,540.5 207.3,539.6 226.7,541.3 246.0,541.5 265.3,541.8 284.7,546.5 304.0,545.2 323.3,544.6 342.7,542.8 362.0,537.1 381.3,541.8 400.7,546.5 420.0,544.6 439.3,548.2 458.7,547.8 478.0,544.9 497.3,544.9 516.7,544.0 536.0,541.2 555.3,542.3 574.7,547.3 594.0,541.2 613.3,545.9 632.7,540.7 652.0,548.7" fill="none" stroke="#E12A22" stroke-width="6.2" stroke-linejoin="round"/>
<rect x="181.0" y="533.5" width="14" height="14" fill="#E12A22"/>
<rect x="200.3" y="532.6" width="14" height="14" fill="#E12A22"/>
<rect x="219.7" y="534.3" width="14" height="14" fill="#E12A22"/>
<rect x="239.0" y="534.5" width="14" height="14" fill="#E12A22"/>
<rect x="258.3" y="534.8" width="14" height="14" fill="#E12A22"/>
<rect x="277.7" y="539.5" width="14" height="14" fill="#E12A22"/>
<rect x="297.0" y="538.2" width="14" height="14" fill="#E12A22"/>
<rect x="316.3" y="537.6" width="14" height="14" fill="#E12A22"/>
<rect x="335.7" y="535.8" width="14" height="14" fill="#E12A22"/>
<rect x="355.0" y="530.1" width="14" height="14" fill="#E12A22"/>
<rect x="374.3" y="534.8" width="14" height="14" fill="#E12A22"/>
<rect x="393.7" y="539.5" width="14" height="14" fill="#E12A22"/>
<rect x="413.0" y="537.6" width="14" height="14" fill="#E12A22"/>
<rect x="432.3" y="541.2" width="14" height="14" fill="#E12A22"/>
<rect x="451.7" y="540.8" width="14" height="14" fill="#E12A22"/>
<rect x="471.0" y="537.9" width="14" height="14" fill="#E12A22"/>
<rect x="490.3" y="537.9" width="14" height="14" fill="#E12A22"/>
<rect x="509.7" y="537.0" width="14" height="14" fill="#E12A22"/>
<rect x="529.0" y="534.2" width="14" height="14" fill="#E12A22"/>
<rect x="548.3" y="535.3" width="14" height="14" fill="#E12A22"/>
<rect x="567.7" y="540.3" width="14" height="14" fill="#E12A22"/>
<rect x="587.0" y="534.2" width="14" height="14" fill="#E12A22"/>
<rect x="606.3" y="538.9" width="14" height="14" fill="#E12A22"/>
<rect x="625.7" y="533.7" width="14" height="14" fill="#E12A22"/>
<rect x="645.0" y="541.7" width="14" height="14" fill="#E12A22"/>
</g>
<rect x="1247" y="53.3" width="150.3" height="495" fill="#fff" stroke="#111" stroke-width="1"/>
<text class="jp" x="1350.4" y="40" font-size="25.5" fill="#1a1a1a">（<tspan dx="-0.6" dy="0.6" font-size="27.5" style="font-weight:350">年</tspan><tspan dx="-0.4" dy="-0.6">）</tspan></text>
<g opacity="0.16" filter="url(#halo)"><line x1="1263" y1="80.5" x2="1349" y2="80.5" stroke="#D58066" stroke-width="7.7"/></g>
<g filter="url(#b60)">
<line x1="1263" y1="80.5" x2="1349" y2="80.5" stroke="#D58066" stroke-width="2.16"/>
<g transform="translate(1306,80.5) scale(1.0)"><polygon points="7.7,0.0 4.9,2.0 5.4,5.4 2.0,4.9 0.0,7.7 -2.0,4.9 -5.4,5.4 -4.9,2.0 -7.7,0.0 -4.9,-2.0 -5.4,-5.4 -2.0,-4.9 -0.0,-7.7 2.0,-4.9 5.4,-5.4 4.9,-2.0" fill="#D06F54"/></g>
</g>
<text class="num" style="font-weight:350" transform="translate(1359.6,88.9) scale(0.9,1)" font-size="23.5" fill="#1a1a1a">11</text>
<g>
<line x1="1263" y1="124.8" x2="1349" y2="124.8" stroke="#7CBB45" stroke-width="1.84"/>
<g transform="translate(1306,124.8) scale(1.0)"><rect x="-5.8" y="-4.2" width="11.6" height="8.4" fill="#7CBB45"/></g>
</g>
<text class="num" style="font-weight:350" transform="translate(1359.6,133.2) scale(0.9,1)" font-size="23.5" fill="#1a1a1a">12</text>
<g opacity="0.16" filter="url(#halo)"><line x1="1263" y1="168.8" x2="1349" y2="168.8" stroke="#E4478A" stroke-width="7.7"/></g>
<g filter="url(#b40)">
<line x1="1263" y1="168.8" x2="1349" y2="168.8" stroke="#E4478A" stroke-width="2.16"/>
<g transform="translate(1306,168.8) scale(1.0)"><rect x="-2.0" y="-6.5" width="4" height="13" fill="#E0235B"/></g>
</g>
<text class="num" style="font-weight:350" transform="translate(1359.6,177.2) scale(0.9,1)" font-size="23.5" fill="#1a1a1a">13</text>
<g>
<line x1="1263" y1="212.8" x2="1349" y2="212.8" stroke="#0B5A2C" stroke-width="1.76"/>
<g transform="translate(1306,212.8) scale(0.84)"><circle cx="0.0" cy="0.0" r="5.6" fill="#0B5A2C"/></g>
</g>
<text class="num" style="font-weight:350" transform="translate(1359.6,221.2) scale(0.9,1)" font-size="23.5" fill="#1a1a1a">14</text>
<g opacity="0.16" filter="url(#halo)"><line x1="1263" y1="256.8" x2="1349" y2="256.8" stroke="#F4AE55" stroke-width="7.5"/></g>
<g filter="url(#b50)">
<line x1="1263" y1="256.8" x2="1349" y2="256.8" stroke="#F4AE55" stroke-width="2.00"/>
<g transform="translate(1306,256.8) scale(0.84)"><polygon points="0.0,-7.6 4.6,0.0 0.0,7.6 -4.6,0.0" fill="#F2A244"/></g>
</g>
<text class="num" style="font-weight:350" transform="translate(1359.6,265.2) scale(0.9,1)" font-size="23.5" fill="#1a1a1a">15</text>
<g>
<line x1="1263" y1="301" x2="1349" y2="301" stroke="#2F6E86" stroke-width="1.76"/>
<g transform="translate(1306,301) scale(0.84)"><polygon points="0.0,-6.0 6.0,4.5 -6.0,4.5" fill="#2F6E86"/></g>
</g>
<text class="num" style="font-weight:350" transform="translate(1359.6,309.4) scale(0.9,1)" font-size="23.5" fill="#1a1a1a">16</text>
<g opacity="0.16" filter="url(#halo)"><line x1="1263" y1="345.7" x2="1349" y2="345.7" stroke="#B5508F" stroke-width="7.5"/></g>
<g filter="url(#b35)">
<line x1="1263" y1="345.7" x2="1349" y2="345.7" stroke="#B5508F" stroke-width="2.00"/>
<g transform="translate(1306,345.7) scale(0.84)"><polygon points="0.0,-5.0 5.0,0.0 0.0,5.0 -5.0,0.0" fill="#fff" stroke="#B5508F" stroke-width="1.3"/></g>
</g>
<text class="num" style="font-weight:350" transform="translate(1359.6,354.1) scale(0.9,1)" font-size="23.5" fill="#1a1a1a">17</text>
<g opacity="0.16" filter="url(#halo)"><line x1="1263" y1="389.2" x2="1349" y2="389.2" stroke="#F28B86" stroke-width="7.9"/></g>
<g filter="url(#b60)">
<line x1="1263" y1="389.2" x2="1349" y2="389.2" stroke="#F28B86" stroke-width="2.32"/>
<g transform="translate(1306,389.2) scale(0.84)"><rect x="-5.0" y="-5.0" width="10" height="10" fill="#EA5565"/></g>
</g>
<text class="num" style="font-weight:350" transform="translate(1359.6,397.6) scale(0.9,1)" font-size="23.5" fill="#1a1a1a">18</text>
<g>
<line x1="1263" y1="433.8" x2="1349" y2="433.8" stroke="#9C9A6C" stroke-width="1.60"/>
<g transform="translate(1306,433.8) scale(0.84)"><polygon points="0.0,-5.5 5.0,4.0 -5.0,4.0" fill="#fdfdf4" stroke="#97986A" stroke-width="1.2"/></g>
</g>
<text class="num" style="font-weight:350" transform="translate(1359.6,442.2) scale(0.9,1)" font-size="23.5" fill="#1a1a1a">19</text>
<g>
<line x1="1263" y1="477.7" x2="1349" y2="477.7" stroke="#0AA25C" stroke-width="1.68"/>
<g transform="translate(1306,477.7) scale(0.84)"><polygon points="0.0,-6.2 5.8,0.0 0.0,6.2 -5.8,0.0" fill="#0B9E55"/></g>
</g>
<text class="num" style="font-weight:350" transform="translate(1359.6,486.1) scale(0.9,1)" font-size="23.5" fill="#1a1a1a">20</text>
<g opacity="0.16" filter="url(#halo)"><line x1="1263" y1="522" x2="1349" y2="522" stroke="#E12A22" stroke-width="11.2"/></g>
<g filter="url(#b90)">
<line x1="1263" y1="522" x2="1349" y2="522" stroke="#E12A22" stroke-width="4.96"/>
<g transform="translate(1306,522) scale(1.0)"><rect x="-7.0" y="-7.0" width="14" height="14" fill="#E12A22"/></g>
</g>
<text class="num" style="font-weight:350" transform="translate(1359.6,530.4) scale(0.9,1)" font-size="23.5" fill="#1a1a1a">21</text>
</svg></body></html>
